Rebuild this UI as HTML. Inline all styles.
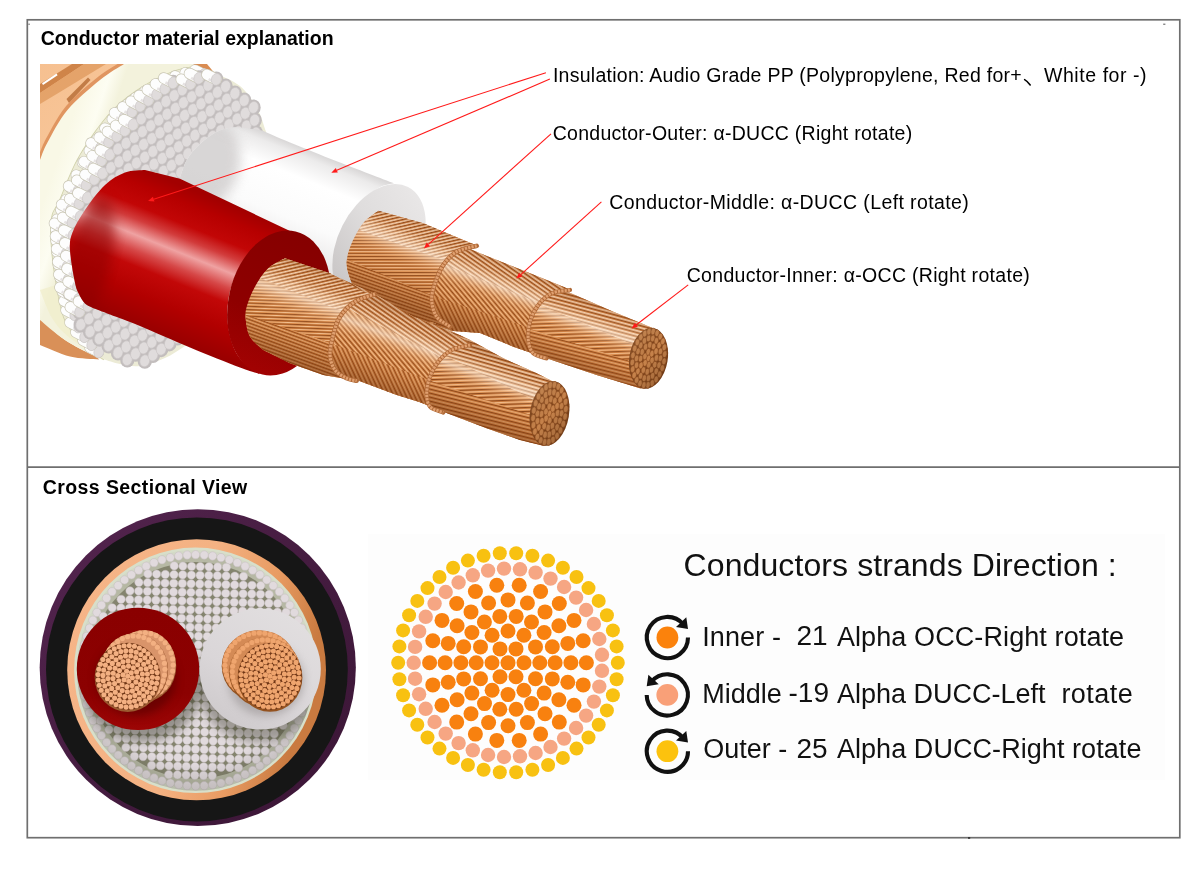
<!DOCTYPE html>
<html>
<head>
<meta charset="utf-8">
<title>Conductor material explanation</title>
<style>
html,body{margin:0;padding:0;background:#fff;}
body{width:1200px;height:874px;position:relative;overflow:hidden;font-family:"Liberation Sans",sans-serif;color:#000;}
.t{position:absolute;white-space:nowrap;line-height:1;filter:grayscale(1);}
svg{position:absolute;left:0;top:0;}
</style>
</head>
<body>

<!-- LEGEND BG -->
<div id="legbg" style="position:absolute;left:368px;top:534px;width:797px;height:246px;background:#fdfdfd;"></div>

<!-- MAIN SVG -->
<svg id="art" width="1200" height="874" viewBox="0 0 1200 874">
<defs>
<linearGradient id="gPur" x1="0" y1="0" x2="1" y2="1"><stop offset="0" stop-color="#552550"/><stop offset=".5" stop-color="#451c40"/><stop offset="1" stop-color="#3a1535"/></linearGradient>
<linearGradient id="gCuR" x1="0" y1="0" x2="1" y2="0.25"><stop offset="0" stop-color="#f6b588"/><stop offset=".55" stop-color="#f4b283"/><stop offset=".8" stop-color="#e89b62"/><stop offset="1" stop-color="#c97a40"/></linearGradient>
<radialGradient id="gRodSh" cx="0.5" cy="0.42" r="0.62"><stop offset="0" stop-color="#000" stop-opacity="0"/><stop offset=".75" stop-color="#000" stop-opacity="0"/><stop offset="1" stop-color="#30301c" stop-opacity=".22"/></radialGradient>
<linearGradient id="gWh" x1="0.8" y1="0" x2="0.2" y2="1"><stop offset="0" stop-color="#e2dfe0"/><stop offset=".6" stop-color="#dad6d8"/><stop offset="1" stop-color="#cdc9cb"/></linearGradient>
<linearGradient id="gRd" x1="0.5" y1="0" x2="0.5" y2="1"><stop offset="0" stop-color="#8a0000"/><stop offset=".7" stop-color="#8c0101"/><stop offset="1" stop-color="#9c0505"/></linearGradient>
<filter id="fBl3" x="-30%" y="-30%" width="160%" height="160%"><feGaussianBlur stdDeviation="4"/></filter>
<clipPath id="cRods"><ellipse cx="195.65" cy="670.35" rx="118.75" ry="120.35"/></clipPath><linearGradient id="tCuSh" gradientUnits="userSpaceOnUse" x1="40" y1="64" x2="120" y2="150"><stop offset="0" stop-color="#f6c090"/><stop offset=".5" stop-color="#f7c496"/><stop offset=".85" stop-color="#efae78"/><stop offset="1" stop-color="#dc9258"/></linearGradient>
<linearGradient id="tCream" gradientUnits="userSpaceOnUse" x1="40" y1="210" x2="75" y2="222"><stop offset="0" stop-color="#f9f8e6"/><stop offset=".6" stop-color="#fdfdf2"/><stop offset="1" stop-color="#f3f2dc"/></linearGradient>
<linearGradient id="tRed" gradientUnits="userSpaceOnUse" x1="217" y1="200" x2="162.3" y2="335.3"><stop offset="0" stop-color="#a30000"/><stop offset=".1" stop-color="#b60000"/><stop offset=".24" stop-color="#c20606"/><stop offset=".33" stop-color="#d23c3c"/><stop offset=".43" stop-color="#efa2a2"/><stop offset=".53" stop-color="#d64848"/><stop offset=".63" stop-color="#c20808"/><stop offset=".8" stop-color="#b20000"/><stop offset="1" stop-color="#990000"/></linearGradient>
<linearGradient id="tRedEnd" gradientUnits="userSpaceOnUse" x1="290" y1="232" x2="262" y2="374"><stop offset="0" stop-color="#860000"/><stop offset=".6" stop-color="#8e0000"/><stop offset="1" stop-color="#a20202"/></linearGradient>
<linearGradient id="tWh" gradientUnits="userSpaceOnUse" x1="330" y1="158.5" x2="286" y2="267"><stop offset="0" stop-color="#d9d7d7"/><stop offset=".07" stop-color="#ecebeb"/><stop offset=".25" stop-color="#ffffff"/><stop offset=".6" stop-color="#fbfbfb"/><stop offset=".85" stop-color="#ecebeb"/><stop offset="1" stop-color="#dedcdc"/></linearGradient>
<linearGradient id="tWhEnd" gradientUnits="userSpaceOnUse" x1="400" y1="185" x2="345" y2="285"><stop offset="0" stop-color="#e9e7e7"/><stop offset=".5" stop-color="#dfdddd"/><stop offset="1" stop-color="#cbc8c8"/></linearGradient>
<filter id="tBl" x="-20%" y="-20%" width="140%" height="140%"><feGaussianBlur stdDeviation="6"/></filter>
<filter id="tBl2" x="-20%" y="-20%" width="140%" height="140%"><feGaussianBlur stdDeviation="2.2"/></filter>
<clipPath id="tcAll"><rect x="40" y="64" width="640" height="392"/></clipPath><clipPath id="tcRod"><path d="M104,359.5 C100.8,357.1 91.5,351.6 85,345 C78.5,338.4 70,331.7 65,320 C60,308.3 57.3,289.2 55,275 C52.7,260.8 51.4,245 51,235 C50.6,225 51,220.8 52.5,215 C54,209.2 55.8,209.2 60,200 C64.2,190.8 70.4,172.9 77.5,160 C84.6,147.1 94.2,132.9 102.5,122.5 C110.8,112.1 117.9,105 127.5,97.5 C137.1,90 149.6,82.5 160,77.5 C170.4,72.5 181,68.3 190,67.5 C199,66.7 210,71.7 214,72.5 L214,72.5 C218.3,74.8 233,80.3 240,86 C247,91.7 252,99.8 256,106.5 C260,113.2 261.8,118.8 264,126 C266.2,133.2 269.3,137.7 269,150 C268.7,162.3 266.8,178.3 262,200 C257.2,221.7 248.7,258.3 240,280 C231.3,301.7 219.2,319 210,330 C200.8,341 192.5,341.3 185,346 C177.5,350.7 172.5,354.7 165,358 C157.5,361.3 147.5,365 140,366 C132.5,367 126,365.1 120,364 C114,362.9 106.7,360.2 104,359.5Z"/></clipPath>
<clipPath id="tcWh"><path d="M180,190 C180,187.9 178.3,183.3 180,177.5 C181.7,171.7 185,161.9 190,155 C195,148.1 203,140.6 210,136 C217,131.4 223.3,128.4 232,127.5 C240.7,126.6 257,130 262,130.5 L262,130.5 C266.7,132.5 277.3,137.2 290,142.4 C302.7,147.6 320.7,154.9 338,161.7 C355.3,168.5 384.7,179.7 394,183.3 L394,183.3 C391.6,184 385,184.5 379.7,187.3 C374.4,190.1 367.6,194.7 362,200 C356.4,205.3 350.2,212.4 346,219.4 C341.8,226.4 338.8,234.7 336.5,241.8 C334.2,248.9 332.6,255.6 332.5,262 C332.4,268.4 333.9,274.5 336,280 C338.1,285.5 343.5,292.5 345,295 L345,292 L354,312 L300,300 L180,232Z"/></clipPath>
<clipPath id="tcRed"><path d="M93,308 C91.7,307.2 87.3,305.8 85,303.5 C82.7,301.2 80.7,297.5 79,294 C77.3,290.5 76.5,289.8 75,282.5 C73.5,275.2 70.4,258.3 70,250 C69.6,241.7 70,239.2 72.5,232.5 C75,225.8 79.6,217.9 85,210 C90.4,202.1 98.3,191.2 105,185 C111.7,178.8 118.3,175 125,172.5 C131.7,170 141.7,170.4 145,170 L145,170 L180,178.8 L290,231 L290,231 C283.8,234.2 262.1,241.4 252.5,250 C242.9,258.6 236.7,270.8 232.5,282.5 C228.3,294.2 226.7,307.9 227.5,320 C228.3,332.1 232.1,346 237.5,355 C242.9,364 256.2,370.8 260,374 L260,374 C256.7,372.9 251.7,371.9 240,367.5 C228.3,363.1 206.7,354.4 190,347.5 C173.3,340.6 153.3,331.5 140,326 C126.7,320.5 117.8,317.5 110,314.5 C102.2,311.5 95.8,309.1 93,308Z"/></clipPath><linearGradient id="tgEF" x1="0" y1="0" x2="1" y2="1"><stop offset="0" stop-color="#ffd9b0" stop-opacity=".22"/><stop offset=".5" stop-color="#000" stop-opacity="0"/><stop offset="1" stop-color="#4a1f05" stop-opacity=".3"/></linearGradient>
<linearGradient id="tgC2i" gradientUnits="userSpaceOnUse" x1="612" y1="311" x2="590" y2="374"><stop offset="0" stop-color="#8a4516" stop-opacity="0.28"/><stop offset="0.1" stop-color="#a85c26" stop-opacity="0.08"/><stop offset="0.22" stop-color="#ffe2c4" stop-opacity="0.32"/><stop offset="0.33" stop-color="#fff0e0" stop-opacity="0.6"/><stop offset="0.45" stop-color="#ffd4ac" stop-opacity="0.22"/><stop offset="0.6" stop-color="#c06c30" stop-opacity="0"/><stop offset="0.8" stop-color="#8c4212" stop-opacity="0.26"/><stop offset="1" stop-color="#74340c" stop-opacity="0.5"/></linearGradient>
<pattern id="tp1" width="20" height="3.8" patternUnits="userSpaceOnUse" patternTransform="rotate(-2)"><rect width="20" height="3.8" fill="#da8a48"/><rect y="0" width="20" height="0.8" fill="#7f3c12"/><rect y="0.8" width="20" height="0.5" fill="#b4652b"/><rect y="2.1" width="20" height="0.8" fill="#f9cda2"/></pattern>
<clipPath id="tcS1"><path d="M530,276 L573.3,294.2 L613.3,311.7 L653.3,328.3 L653.3,328.3 C655.7,331.6 665.8,341.9 667.5,348.3 C669.2,354.7 667.3,360 663.3,366.7 C659.3,373.4 646.6,384.7 643.3,388.3 L640,388.3 L596.7,375 L546.7,358.3 L505,343Z"/></clipPath>
<pattern id="tp2" width="20" height="3.8" patternUnits="userSpaceOnUse" patternTransform="rotate(15)"><rect width="20" height="3.8" fill="#da8a48"/><rect y="0" width="20" height="0.8" fill="#7f3c12"/><rect y="0.8" width="20" height="0.5" fill="#b4652b"/><rect y="2.1" width="20" height="1.1" fill="#fff0df"/></pattern>
<pattern id="tp3" width="20" height="3.8" patternUnits="userSpaceOnUse" patternTransform="rotate(14)"><rect width="20" height="3.8" fill="#da8a48"/><rect y="0" width="20" height="0.8" fill="#7f3c12"/><rect y="0.8" width="20" height="0.5" fill="#b4652b"/><rect y="2.1" width="20" height="0.8" fill="#eebb8c"/></pattern>
<linearGradient id="tgC2m" gradientUnits="userSpaceOnUse" x1="528" y1="272" x2="500" y2="343"><stop offset="0" stop-color="#8a4516" stop-opacity="0.28"/><stop offset="0.1" stop-color="#a85c26" stop-opacity="0.08"/><stop offset="0.22" stop-color="#ffe2c4" stop-opacity="0.32"/><stop offset="0.33" stop-color="#fff0e0" stop-opacity="0.6"/><stop offset="0.45" stop-color="#ffd4ac" stop-opacity="0.22"/><stop offset="0.6" stop-color="#c06c30" stop-opacity="0"/><stop offset="0.8" stop-color="#8c4212" stop-opacity="0.26"/><stop offset="1" stop-color="#74340c" stop-opacity="0.5"/></linearGradient>
<pattern id="tp4" width="20" height="3.7" patternUnits="userSpaceOnUse" patternTransform="rotate(50)"><rect width="20" height="3.7" fill="#da8a48"/><rect y="0" width="20" height="0.8" fill="#7f3c12"/><rect y="0.8" width="20" height="0.5" fill="#b4652b"/><rect y="2.1" width="20" height="0.8" fill="#f9cda2"/></pattern>
<clipPath id="tcS4"><path d="M440,236 L480,253.3 L530,273.3 L570,289.5 L570,290 C567,290.6 557,290.8 551.7,293.3 C546.4,295.8 541.9,300.3 538.3,305 C534.7,309.7 531.7,315.9 530,321.7 C528.3,327.5 527.8,334.7 528.3,340 C528.8,345.3 530.2,350.2 533.3,353.3 C536.4,356.4 544.5,357.5 546.7,358.3 L546.7,358.3 L513.3,346.7 L480,333 L453,331 L410,312Z"/></clipPath>
<pattern id="tp5" width="20" height="3.7" patternUnits="userSpaceOnUse" patternTransform="rotate(35)"><rect width="20" height="3.7" fill="#da8a48"/><rect y="0" width="20" height="0.8" fill="#7f3c12"/><rect y="0.8" width="20" height="0.5" fill="#b4652b"/><rect y="2.1" width="20" height="1.1" fill="#fff0df"/></pattern>
<pattern id="tp6" width="20" height="3.7" patternUnits="userSpaceOnUse" patternTransform="rotate(64)"><rect width="20" height="3.7" fill="#da8a48"/><rect y="0" width="20" height="0.8" fill="#7f3c12"/><rect y="0.8" width="20" height="0.5" fill="#b4652b"/><rect y="2.1" width="20" height="0.7" fill="#eebb8c"/></pattern>
<linearGradient id="tgC2o" gradientUnits="userSpaceOnUse" x1="428" y1="224" x2="398" y2="304"><stop offset="0" stop-color="#8a4516" stop-opacity="0.28"/><stop offset="0.1" stop-color="#a85c26" stop-opacity="0.08"/><stop offset="0.22" stop-color="#ffe2c4" stop-opacity="0.32"/><stop offset="0.33" stop-color="#fff0e0" stop-opacity="0.6"/><stop offset="0.45" stop-color="#ffd4ac" stop-opacity="0.22"/><stop offset="0.6" stop-color="#c06c30" stop-opacity="0"/><stop offset="0.8" stop-color="#8c4212" stop-opacity="0.26"/><stop offset="1" stop-color="#74340c" stop-opacity="0.5"/></linearGradient>
<pattern id="tp7" width="20" height="3.2" patternUnits="userSpaceOnUse" patternTransform="rotate(0)"><rect width="20" height="3.2" fill="#da8a48"/><rect y="0" width="20" height="0.7" fill="#7f3c12"/><rect y="0.7" width="20" height="0.5" fill="#b4652b"/><rect y="1.8" width="20" height="0.7" fill="#f9cda2"/></pattern>
<clipPath id="tcS7"><path d="M356.7,292 C355.6,289.7 351.7,283.4 350,278.3 C348.3,273.2 346.4,267.5 346.7,261.7 C347,255.9 348.9,249.7 351.7,243.3 C354.5,236.9 358.9,228.7 363.3,223.3 C367.7,217.9 375.8,212.9 378.3,210.8 L378.3,210.8 L423.3,223.3 L463.3,240 L480,246.7 L476.7,245.8 C473.4,246.8 462.3,248.5 456.7,251.7 C451.1,254.9 446.9,259.7 443.3,265 C439.7,270.3 436.9,277.5 435,283.3 C433.1,289.1 431.4,294.4 431.7,300 C432,305.6 433.6,312.2 436.7,316.7 C439.8,321.1 447.8,325 450,326.7 L452,331.5 L436.7,326 L385,306 L356.7,292Z"/></clipPath>
<pattern id="tp8" width="20" height="3.2" patternUnits="userSpaceOnUse" patternTransform="rotate(-13)"><rect width="20" height="3.2" fill="#da8a48"/><rect y="0" width="20" height="0.7" fill="#7f3c12"/><rect y="0.7" width="20" height="0.5" fill="#b4652b"/><rect y="1.8" width="20" height="1" fill="#fff0df"/></pattern>
<pattern id="tp9" width="20" height="3.2" patternUnits="userSpaceOnUse" patternTransform="rotate(19)"><rect width="20" height="3.2" fill="#da8a48"/><rect y="0" width="20" height="0.7" fill="#7f3c12"/><rect y="0.7" width="20" height="0.5" fill="#b4652b"/><rect y="1.8" width="20" height="0.7" fill="#eebb8c"/></pattern>
<linearGradient id="tgC1i" gradientUnits="userSpaceOnUse" x1="512" y1="362" x2="488" y2="428"><stop offset="0" stop-color="#8a4516" stop-opacity="0.28"/><stop offset="0.1" stop-color="#a85c26" stop-opacity="0.08"/><stop offset="0.22" stop-color="#ffe2c4" stop-opacity="0.32"/><stop offset="0.33" stop-color="#fff0e0" stop-opacity="0.6"/><stop offset="0.45" stop-color="#ffd4ac" stop-opacity="0.22"/><stop offset="0.6" stop-color="#c06c30" stop-opacity="0"/><stop offset="0.8" stop-color="#8c4212" stop-opacity="0.26"/><stop offset="1" stop-color="#74340c" stop-opacity="0.5"/></linearGradient>
<pattern id="tp10" width="20" height="3.9" patternUnits="userSpaceOnUse" patternTransform="rotate(-2)"><rect width="20" height="3.9" fill="#da8a48"/><rect y="0" width="20" height="0.9" fill="#7f3c12"/><rect y="0.9" width="20" height="0.5" fill="#b4652b"/><rect y="2.2" width="20" height="0.9" fill="#f9cda2"/></pattern>
<clipPath id="tcS10"><path d="M430,321 L470,340 L503.3,358.3 L536.7,373.3 L553.3,381.7 L553.3,381.7 C555.8,384.8 566.3,393.6 568.3,400 C570.2,406.4 569.2,412.4 565,420 C560.8,427.6 546.9,441.5 543.3,445.8 L543.3,445.8 L520,440 L486.7,428.3 L443.3,411.7 L405,396Z"/></clipPath>
<pattern id="tp11" width="20" height="3.9" patternUnits="userSpaceOnUse" patternTransform="rotate(16)"><rect width="20" height="3.9" fill="#da8a48"/><rect y="0" width="20" height="0.9" fill="#7f3c12"/><rect y="0.9" width="20" height="0.5" fill="#b4652b"/><rect y="2.2" width="20" height="1.2" fill="#fff0df"/></pattern>
<pattern id="tp12" width="20" height="3.9" patternUnits="userSpaceOnUse" patternTransform="rotate(14)"><rect width="20" height="3.9" fill="#da8a48"/><rect y="0" width="20" height="0.9" fill="#7f3c12"/><rect y="0.9" width="20" height="0.5" fill="#b4652b"/><rect y="2.2" width="20" height="0.8" fill="#eebb8c"/></pattern>
<linearGradient id="tgC1m" gradientUnits="userSpaceOnUse" x1="425" y1="322" x2="396" y2="396"><stop offset="0" stop-color="#8a4516" stop-opacity="0.28"/><stop offset="0.1" stop-color="#a85c26" stop-opacity="0.08"/><stop offset="0.22" stop-color="#ffe2c4" stop-opacity="0.32"/><stop offset="0.33" stop-color="#fff0e0" stop-opacity="0.6"/><stop offset="0.45" stop-color="#ffd4ac" stop-opacity="0.22"/><stop offset="0.6" stop-color="#c06c30" stop-opacity="0"/><stop offset="0.8" stop-color="#8c4212" stop-opacity="0.26"/><stop offset="1" stop-color="#74340c" stop-opacity="0.5"/></linearGradient>
<pattern id="tp13" width="20" height="3.8" patternUnits="userSpaceOnUse" patternTransform="rotate(50)"><rect width="20" height="3.8" fill="#da8a48"/><rect y="0" width="20" height="0.8" fill="#7f3c12"/><rect y="0.8" width="20" height="0.5" fill="#b4652b"/><rect y="2.1" width="20" height="0.8" fill="#f9cda2"/></pattern>
<clipPath id="tcS13"><path d="M335,276 L375,294.2 L413.3,316.7 L446.7,330 L473.3,345 L470,345 C466.9,345.8 457,347.2 451.7,350 C446.4,352.8 441.9,357.2 438.3,361.7 C434.7,366.1 431.9,371.4 430,376.7 C428.1,382 426.7,388.3 426.7,393.3 C426.7,398.3 427.2,403.5 430,406.7 C432.8,409.9 441.1,411.5 443.3,412.5 L443.3,412.5 L423.3,403.3 L396.7,395 L356.7,380 L310,362Z"/></clipPath>
<pattern id="tp14" width="20" height="3.8" patternUnits="userSpaceOnUse" patternTransform="rotate(35)"><rect width="20" height="3.8" fill="#da8a48"/><rect y="0" width="20" height="0.8" fill="#7f3c12"/><rect y="0.8" width="20" height="0.5" fill="#b4652b"/><rect y="2.1" width="20" height="1.1" fill="#fff0df"/></pattern>
<pattern id="tp15" width="20" height="3.8" patternUnits="userSpaceOnUse" patternTransform="rotate(65)"><rect width="20" height="3.8" fill="#da8a48"/><rect y="0" width="20" height="0.8" fill="#7f3c12"/><rect y="0.8" width="20" height="0.5" fill="#b4652b"/><rect y="2.1" width="20" height="0.8" fill="#eebb8c"/></pattern>
<linearGradient id="tgC1o" gradientUnits="userSpaceOnUse" x1="327" y1="273" x2="296" y2="364"><stop offset="0" stop-color="#8a4516" stop-opacity="0.28"/><stop offset="0.1" stop-color="#a85c26" stop-opacity="0.08"/><stop offset="0.22" stop-color="#ffe2c4" stop-opacity="0.32"/><stop offset="0.33" stop-color="#fff0e0" stop-opacity="0.6"/><stop offset="0.45" stop-color="#ffd4ac" stop-opacity="0.22"/><stop offset="0.6" stop-color="#c06c30" stop-opacity="0"/><stop offset="0.8" stop-color="#8c4212" stop-opacity="0.26"/><stop offset="1" stop-color="#74340c" stop-opacity="0.5"/></linearGradient>
<pattern id="tp16" width="20" height="3.3" patternUnits="userSpaceOnUse" patternTransform="rotate(2)"><rect width="20" height="3.3" fill="#da8a48"/><rect y="0" width="20" height="0.7" fill="#7f3c12"/><rect y="0.7" width="20" height="0.5" fill="#b4652b"/><rect y="1.8" width="20" height="0.7" fill="#f9cda2"/></pattern>
<clipPath id="tcS16"><path d="M263.3,350 C261.1,347.8 252.9,341.7 250,336.7 C247.1,331.7 246.4,325 245.8,320 C245.2,315 245.2,312.2 246.7,306.7 C248.2,301.1 251.4,293.1 255,286.7 C258.6,280.3 263.3,273 268.3,268.3 C273.3,263.6 282.2,260 285,258.3 L285,258.3 L330,273.3 L363.3,291.7 L376.7,295 L375,294 C371.7,295.3 360.8,297.9 355,301.7 C349.2,305.5 343.6,311.1 340,316.7 C336.4,322.2 335,328.6 333.3,335 C331.6,341.4 329.7,349.2 330,355 C330.3,360.8 332.2,366.1 335,370 C337.8,373.9 343.1,376.5 346.7,378.3 C350.3,380.1 355,380.4 356.7,380.8 L356.7,380.8 L323.3,375 L290,363.3 L263.3,350Z"/></clipPath>
<pattern id="tp17" width="20" height="3.3" patternUnits="userSpaceOnUse" patternTransform="rotate(-13)"><rect width="20" height="3.3" fill="#da8a48"/><rect y="0" width="20" height="0.7" fill="#7f3c12"/><rect y="0.7" width="20" height="0.5" fill="#b4652b"/><rect y="1.8" width="20" height="1" fill="#fff0df"/></pattern>
<pattern id="tp18" width="20" height="3.3" patternUnits="userSpaceOnUse" patternTransform="rotate(20)"><rect width="20" height="3.3" fill="#da8a48"/><rect y="0" width="20" height="0.7" fill="#7f3c12"/><rect y="0.7" width="20" height="0.5" fill="#b4652b"/><rect y="1.8" width="20" height="0.7" fill="#eebb8c"/></pattern>
</defs>
<rect x="27.3" y="19.8" width="1152.5" height="817.9" fill="none" stroke="#6f6f6f" stroke-width="1.7"/>
<path d="M27.3,467.2H1179.8" stroke="#6f6f6f" stroke-width="1.7"/>
<g id="topimg" clip-path="url(#tcAll)">
<path d="M40,64 L126,64 L126,64 C121.7,66.7 109.8,72.3 100,80 C90.2,87.7 76.2,99.6 67.5,110 C58.8,120.4 52.1,133.8 47.5,142.5 C42.9,151.2 41.2,158.8 40,162Z" fill="url(#tCuSh)"/>
<path d="M40,84 L72,64 L84,64 L40,93Z" fill="#c8793c" opacity=".85"/>
<path d="M40,93 L84,64 L106,64 L60,92 L40,104Z" fill="#dd9558" opacity=".7"/>
<path d="M42,83.2 L56.5,73.6 L57.6,75.3 L43,85Z" fill="#fff"/>
<path d="M66.5,99 L88,77.5 L90.5,80 L69,103Z" fill="#b9703a" opacity=".85"/>
<path d="M128,62 C123.5,64.8 110.8,71.3 101,79 C91.2,86.7 77.7,97.8 69,108 C60.3,118.2 53.7,131.8 49,140.5 C44.3,149.2 42.3,156.8 41,160" fill="none" stroke="#d98a52" stroke-width="7" opacity=".8"/>
<path d="M192,64 L207,64 L214,72.5Z" fill="#d98c52"/>
<path d="M40,318 C44.2,321.7 55.4,333.4 65,340 C74.6,346.6 92.1,354.6 97.5,357.5 L99,359.5 L99,359.5 C94.2,359 79.8,358.9 70,356.5 C60.2,354.1 45,346.9 40,345Z" fill="#d99058"/>
<path d="M124,64 C120,66.7 109.4,72.3 100,80 C90.6,87.7 76.2,99.6 67.5,110 C58.8,120.4 52.1,134.2 47.5,142.5 C42.9,150.8 41.2,157.1 40,160 L40,160 L40,320 L40,320 C44.2,323.3 55.4,333.8 65,340 C74.6,346.2 91,354.2 97.5,357.5 C104,360.8 102.9,359.2 104,359.5 L104,359.5 C100.8,357.1 91.5,351.6 85,345 C78.5,338.4 70,331.7 65,320 C60,308.3 57.3,289.2 55,275 C52.7,260.8 51.4,245 51,235 C50.6,225 51,220.8 52.5,215 C54,209.2 55.8,209.2 60,200 C64.2,190.8 70.4,172.9 77.5,160 C84.6,147.1 94.2,132.9 102.5,122.5 C110.8,112.1 117.9,105 127.5,97.5 C137.1,90 149.6,82.5 160,77.5 C170.4,72.5 181,68.3 190,67.5 C199,66.7 210,71.7 214,72.5 L214,72.5 L192,64 L124,64Z" fill="url(#tCream)"/>
<path d="M40,290 C42,294.7 47,310 52,318 C57,326 61.3,331.1 70,338 C78.7,344.9 98.3,355.9 104,359.5 L104,359.5 C100.8,357.1 91.5,351.6 85,345 C78.5,338.4 69.8,330 65,320 C60.2,310 57.5,290.8 56,285 L40,290Z" fill="#f0eecb" opacity=".75"/>
<path d="M104,359.5 C100.8,357.1 91.5,351.6 85,345 C78.5,338.4 70,331.7 65,320 C60,308.3 57.3,289.2 55,275 C52.7,260.8 51.4,245 51,235 C50.6,225 51,220.8 52.5,215 C54,209.2 55.8,209.2 60,200 C64.2,190.8 70.4,172.9 77.5,160 C84.6,147.1 94.2,132.9 102.5,122.5 C110.8,112.1 117.9,105 127.5,97.5 C137.1,90 149.6,82.5 160,77.5 C170.4,72.5 181,68.3 190,67.5 C199,66.7 210,71.7 214,72.5" fill="none" stroke="#cfd0a8" stroke-width="1.6"/>
<path d="M104,359.5 C100.8,357.1 91.5,351.6 85,345 C78.5,338.4 70,331.7 65,320 C60,308.3 57.3,289.2 55,275 C52.7,260.8 51.4,245 51,235 C50.6,225 51,220.8 52.5,215 C54,209.2 55.8,209.2 60,200 C64.2,190.8 70.4,172.9 77.5,160 C84.6,147.1 94.2,132.9 102.5,122.5 C110.8,112.1 117.9,105 127.5,97.5 C137.1,90 149.6,82.5 160,77.5 C170.4,72.5 181,68.3 190,67.5 C199,66.7 210,71.7 214,72.5 L214,72.5 C218.3,74.8 233,80.3 240,86 C247,91.7 252,99.8 256,106.5 C260,113.2 261.8,118.8 264,126 C266.2,133.2 269.3,137.7 269,150 C268.7,162.3 266.8,178.3 262,200 C257.2,221.7 248.7,258.3 240,280 C231.3,301.7 219.2,319 210,330 C200.8,341 192.5,341.3 185,346 C177.5,350.7 172.5,354.7 165,358 C157.5,361.3 147.5,365 140,366 C132.5,367 126,365.1 120,364 C114,362.9 106.7,360.2 104,359.5Z" fill="#ecebd6"/>
<g><path d="M89.9,347.5 L98.8,352" stroke="#c9c6b4" stroke-width="11.2" stroke-linecap="round" fill="none"/><path d="M89.9,347.5 L98.8,352" stroke="#fdfdfd" stroke-width="10" stroke-linecap="round" fill="none"/><ellipse cx="98.8" cy="352" rx="4.9" ry="6" transform="rotate(15 98.8 352)" fill="#e0dcdc" stroke="#cac5c5" stroke-width=".6"/><path d="M82.9,340.2 L91.8,344.7" stroke="#c9c6b4" stroke-width="11.2" stroke-linecap="round" fill="none"/><path d="M82.9,340.2 L91.8,344.7" stroke="#fdfdfd" stroke-width="10" stroke-linecap="round" fill="none"/><ellipse cx="91.8" cy="344.7" rx="4.9" ry="6" transform="rotate(15 91.8 344.7)" fill="#e0dcdc" stroke="#cac5c5" stroke-width=".6"/><path d="M75.8,332.2 L84.7,336.7" stroke="#c9c6b4" stroke-width="11.2" stroke-linecap="round" fill="none"/><path d="M75.8,332.2 L84.7,336.7" stroke="#fdfdfd" stroke-width="10" stroke-linecap="round" fill="none"/><ellipse cx="84.7" cy="336.7" rx="4.9" ry="6" transform="rotate(15 84.7 336.7)" fill="#e0dcdc" stroke="#cac5c5" stroke-width=".6"/><path d="M69.9,322.5 L78.8,327" stroke="#c9c6b4" stroke-width="11.2" stroke-linecap="round" fill="none"/><path d="M69.9,322.5 L78.8,327" stroke="#fdfdfd" stroke-width="10" stroke-linecap="round" fill="none"/><ellipse cx="78.8" cy="327" rx="4.9" ry="6" transform="rotate(15 78.8 327)" fill="#e0dcdc" stroke="#cac5c5" stroke-width=".6"/><path d="M66,310.3 L74.9,314.8" stroke="#c9c6b4" stroke-width="11.2" stroke-linecap="round" fill="none"/><path d="M66,310.3 L74.9,314.8" stroke="#fdfdfd" stroke-width="10" stroke-linecap="round" fill="none"/><ellipse cx="74.9" cy="314.8" rx="4.9" ry="6" transform="rotate(15 74.9 314.8)" fill="#e0dcdc" stroke="#cac5c5" stroke-width=".6"/><path d="M63.9,300.9 L72.8,305.4" stroke="#c9c6b4" stroke-width="11.2" stroke-linecap="round" fill="none"/><path d="M63.9,300.9 L72.8,305.4" stroke="#fdfdfd" stroke-width="10" stroke-linecap="round" fill="none"/><ellipse cx="72.8" cy="305.4" rx="4.9" ry="6" transform="rotate(15 72.8 305.4)" fill="#e0dcdc" stroke="#cac5c5" stroke-width=".6"/><path d="M62.1,291.2 L71,295.7" stroke="#c9c6b4" stroke-width="11.2" stroke-linecap="round" fill="none"/><path d="M62.1,291.2 L71,295.7" stroke="#fdfdfd" stroke-width="10" stroke-linecap="round" fill="none"/><ellipse cx="71" cy="295.7" rx="4.9" ry="6" transform="rotate(15 71 295.7)" fill="#e0dcdc" stroke="#cac5c5" stroke-width=".6"/><path d="M59.9,277.5 L68.8,282" stroke="#c9c6b4" stroke-width="11.2" stroke-linecap="round" fill="none"/><path d="M59.9,277.5 L68.8,282" stroke="#fdfdfd" stroke-width="10" stroke-linecap="round" fill="none"/><ellipse cx="68.8" cy="282" rx="4.9" ry="6" transform="rotate(15 68.8 282)" fill="#e0dcdc" stroke="#cac5c5" stroke-width=".6"/><path d="M58.1,264.5 L67,269" stroke="#c9c6b4" stroke-width="11.2" stroke-linecap="round" fill="none"/><path d="M58.1,264.5 L67,269" stroke="#fdfdfd" stroke-width="10" stroke-linecap="round" fill="none"/><ellipse cx="67" cy="269" rx="4.9" ry="6" transform="rotate(15 67 269)" fill="#e0dcdc" stroke="#cac5c5" stroke-width=".6"/><path d="M56.8,251.8 L65.7,256.3" stroke="#c9c6b4" stroke-width="11.2" stroke-linecap="round" fill="none"/><path d="M56.8,251.8 L65.7,256.3" stroke="#fdfdfd" stroke-width="10" stroke-linecap="round" fill="none"/><ellipse cx="65.7" cy="256.3" rx="4.9" ry="6" transform="rotate(15 65.7 256.3)" fill="#e0dcdc" stroke="#cac5c5" stroke-width=".6"/><path d="M56,240.6 L64.9,245.1" stroke="#c9c6b4" stroke-width="11.2" stroke-linecap="round" fill="none"/><path d="M56,240.6 L64.9,245.1" stroke="#fdfdfd" stroke-width="10" stroke-linecap="round" fill="none"/><ellipse cx="64.9" cy="245.1" rx="4.9" ry="6" transform="rotate(15 64.9 245.1)" fill="#e0dcdc" stroke="#cac5c5" stroke-width=".6"/><path d="M55.8,229.8 L64.7,234.3" stroke="#c9c6b4" stroke-width="11.2" stroke-linecap="round" fill="none"/><path d="M55.8,229.8 L64.7,234.3" stroke="#fdfdfd" stroke-width="10" stroke-linecap="round" fill="none"/><ellipse cx="64.7" cy="234.3" rx="4.9" ry="6" transform="rotate(15 64.7 234.3)" fill="#e0dcdc" stroke="#cac5c5" stroke-width=".6"/><path d="M57,219.2 L65.9,223.7" stroke="#c9c6b4" stroke-width="11.2" stroke-linecap="round" fill="none"/><path d="M57,219.2 L65.9,223.7" stroke="#fdfdfd" stroke-width="10" stroke-linecap="round" fill="none"/><ellipse cx="65.9" cy="223.7" rx="4.9" ry="6" transform="rotate(15 65.9 223.7)" fill="#e0dcdc" stroke="#cac5c5" stroke-width=".6"/><path d="M60.9,210 L69.8,214.5" stroke="#c9c6b4" stroke-width="11.2" stroke-linecap="round" fill="none"/><path d="M60.9,210 L69.8,214.5" stroke="#fdfdfd" stroke-width="10" stroke-linecap="round" fill="none"/><ellipse cx="69.8" cy="214.5" rx="4.9" ry="6" transform="rotate(15 69.8 214.5)" fill="#e0dcdc" stroke="#cac5c5" stroke-width=".6"/><path d="M66.2,199.5 L75.1,204" stroke="#c9c6b4" stroke-width="11.2" stroke-linecap="round" fill="none"/><path d="M66.2,199.5 L75.1,204" stroke="#fdfdfd" stroke-width="10" stroke-linecap="round" fill="none"/><ellipse cx="75.1" cy="204" rx="4.9" ry="6" transform="rotate(15 75.1 204)" fill="#e0dcdc" stroke="#cac5c5" stroke-width=".6"/><path d="M70.8,188.2 L79.7,192.7" stroke="#c9c6b4" stroke-width="11.2" stroke-linecap="round" fill="none"/><path d="M70.8,188.2 L79.7,192.7" stroke="#fdfdfd" stroke-width="10" stroke-linecap="round" fill="none"/><ellipse cx="79.7" cy="192.7" rx="4.9" ry="6" transform="rotate(15 79.7 192.7)" fill="#e0dcdc" stroke="#cac5c5" stroke-width=".6"/><path d="M76.3,175.1 L85.2,179.6" stroke="#c9c6b4" stroke-width="11.2" stroke-linecap="round" fill="none"/><path d="M76.3,175.1 L85.2,179.6" stroke="#fdfdfd" stroke-width="10" stroke-linecap="round" fill="none"/><ellipse cx="85.2" cy="179.6" rx="4.9" ry="6" transform="rotate(15 85.2 179.6)" fill="#e0dcdc" stroke="#cac5c5" stroke-width=".6"/><path d="M82.4,162.5 L91.3,167" stroke="#c9c6b4" stroke-width="11.2" stroke-linecap="round" fill="none"/><path d="M82.4,162.5 L91.3,167" stroke="#fdfdfd" stroke-width="10" stroke-linecap="round" fill="none"/><ellipse cx="91.3" cy="167" rx="4.9" ry="6" transform="rotate(15 91.3 167)" fill="#e0dcdc" stroke="#cac5c5" stroke-width=".6"/><path d="M89.3,150.6 L98.2,155.1" stroke="#c9c6b4" stroke-width="11.2" stroke-linecap="round" fill="none"/><path d="M89.3,150.6 L98.2,155.1" stroke="#fdfdfd" stroke-width="10" stroke-linecap="round" fill="none"/><ellipse cx="98.2" cy="155.1" rx="4.9" ry="6" transform="rotate(15 98.2 155.1)" fill="#e0dcdc" stroke="#cac5c5" stroke-width=".6"/><path d="M97,139 L105.9,143.5" stroke="#c9c6b4" stroke-width="11.2" stroke-linecap="round" fill="none"/><path d="M97,139 L105.9,143.5" stroke="#fdfdfd" stroke-width="10" stroke-linecap="round" fill="none"/><ellipse cx="105.9" cy="143.5" rx="4.9" ry="6" transform="rotate(15 105.9 143.5)" fill="#e0dcdc" stroke="#cac5c5" stroke-width=".6"/><path d="M104.9,128.2 L113.8,132.7" stroke="#c9c6b4" stroke-width="11.2" stroke-linecap="round" fill="none"/><path d="M104.9,128.2 L113.8,132.7" stroke="#fdfdfd" stroke-width="10" stroke-linecap="round" fill="none"/><ellipse cx="113.8" cy="132.7" rx="4.9" ry="6" transform="rotate(15 113.8 132.7)" fill="#e0dcdc" stroke="#cac5c5" stroke-width=".6"/><path d="M112.3,119.1 L121.2,123.6" stroke="#c9c6b4" stroke-width="11.2" stroke-linecap="round" fill="none"/><path d="M112.3,119.1 L121.2,123.6" stroke="#fdfdfd" stroke-width="10" stroke-linecap="round" fill="none"/><ellipse cx="121.2" cy="123.6" rx="4.9" ry="6" transform="rotate(15 121.2 123.6)" fill="#e0dcdc" stroke="#cac5c5" stroke-width=".6"/><path d="M119.4,111.4 L128.3,115.9" stroke="#c9c6b4" stroke-width="11.2" stroke-linecap="round" fill="none"/><path d="M119.4,111.4 L128.3,115.9" stroke="#fdfdfd" stroke-width="10" stroke-linecap="round" fill="none"/><ellipse cx="128.3" cy="115.9" rx="4.9" ry="6" transform="rotate(15 128.3 115.9)" fill="#e0dcdc" stroke="#cac5c5" stroke-width=".6"/><path d="M126.9,104.5 L135.8,109" stroke="#c9c6b4" stroke-width="11.2" stroke-linecap="round" fill="none"/><path d="M126.9,104.5 L135.8,109" stroke="#fdfdfd" stroke-width="10" stroke-linecap="round" fill="none"/><ellipse cx="135.8" cy="109" rx="4.9" ry="6" transform="rotate(15 135.8 109)" fill="#e0dcdc" stroke="#cac5c5" stroke-width=".6"/><path d="M135.4,97.7 L144.3,102.2" stroke="#c9c6b4" stroke-width="11.2" stroke-linecap="round" fill="none"/><path d="M135.4,97.7 L144.3,102.2" stroke="#fdfdfd" stroke-width="10" stroke-linecap="round" fill="none"/><ellipse cx="144.3" cy="102.2" rx="4.9" ry="6" transform="rotate(15 144.3 102.2)" fill="#e0dcdc" stroke="#cac5c5" stroke-width=".6"/><path d="M145,91.1 L153.9,95.6" stroke="#c9c6b4" stroke-width="11.2" stroke-linecap="round" fill="none"/><path d="M145,91.1 L153.9,95.6" stroke="#fdfdfd" stroke-width="10" stroke-linecap="round" fill="none"/><ellipse cx="153.9" cy="95.6" rx="4.9" ry="6" transform="rotate(15 153.9 95.6)" fill="#e0dcdc" stroke="#cac5c5" stroke-width=".6"/><path d="M155.1,85.1 L164,89.6" stroke="#c9c6b4" stroke-width="11.2" stroke-linecap="round" fill="none"/><path d="M155.1,85.1 L164,89.6" stroke="#fdfdfd" stroke-width="10" stroke-linecap="round" fill="none"/><ellipse cx="164" cy="89.6" rx="4.9" ry="6" transform="rotate(15 164 89.6)" fill="#e0dcdc" stroke="#cac5c5" stroke-width=".6"/><path d="M164.9,80 L173.8,84.5" stroke="#c9c6b4" stroke-width="11.2" stroke-linecap="round" fill="none"/><path d="M164.9,80 L173.8,84.5" stroke="#fdfdfd" stroke-width="10" stroke-linecap="round" fill="none"/><ellipse cx="173.8" cy="84.5" rx="4.9" ry="6" transform="rotate(15 173.8 84.5)" fill="#e0dcdc" stroke="#cac5c5" stroke-width=".6"/><path d="M175,75.9 L183.9,80.4" stroke="#c9c6b4" stroke-width="11.2" stroke-linecap="round" fill="none"/><path d="M175,75.9 L183.9,80.4" stroke="#fdfdfd" stroke-width="10" stroke-linecap="round" fill="none"/><ellipse cx="183.9" cy="80.4" rx="4.9" ry="6" transform="rotate(15 183.9 80.4)" fill="#e0dcdc" stroke="#cac5c5" stroke-width=".6"/><path d="M185.2,72.8 L194.1,77.3" stroke="#c9c6b4" stroke-width="11.2" stroke-linecap="round" fill="none"/><path d="M185.2,72.8 L194.1,77.3" stroke="#fdfdfd" stroke-width="10" stroke-linecap="round" fill="none"/><ellipse cx="194.1" cy="77.3" rx="4.9" ry="6" transform="rotate(15 194.1 77.3)" fill="#e0dcdc" stroke="#cac5c5" stroke-width=".6"/><path d="M194.9,70 L203.8,74.5" stroke="#c9c6b4" stroke-width="11.2" stroke-linecap="round" fill="none"/><path d="M194.9,70 L203.8,74.5" stroke="#fdfdfd" stroke-width="10" stroke-linecap="round" fill="none"/><ellipse cx="203.8" cy="74.5" rx="4.9" ry="6" transform="rotate(15 203.8 74.5)" fill="#e0dcdc" stroke="#cac5c5" stroke-width=".6"/><ellipse cx="78" cy="190.8" rx="7.2" ry="8" fill="#c2bdbd"/><ellipse cx="100.4" cy="147.8" rx="7.2" ry="8" fill="#c2bdbd"/><ellipse cx="70.9" cy="209.4" rx="7.2" ry="8" fill="#c2bdbd"/><ellipse cx="93.3" cy="166.4" rx="7.2" ry="8" fill="#c2bdbd"/><ellipse cx="63.8" cy="228" rx="7.2" ry="8" fill="#c2bdbd"/><ellipse cx="86.2" cy="185" rx="7.2" ry="8" fill="#c2bdbd"/><ellipse cx="108.6" cy="142" rx="7.2" ry="8" fill="#c2bdbd"/><ellipse cx="79.1" cy="203.6" rx="7.2" ry="8" fill="#c2bdbd"/><ellipse cx="101.5" cy="160.6" rx="7.2" ry="8" fill="#c2bdbd"/><ellipse cx="123.9" cy="117.6" rx="7.2" ry="8" fill="#c2bdbd"/><ellipse cx="72" cy="222.2" rx="7.2" ry="8" fill="#c2bdbd"/><ellipse cx="94.4" cy="179.2" rx="7.2" ry="8" fill="#c2bdbd"/><ellipse cx="116.8" cy="136.2" rx="7.2" ry="8" fill="#c2bdbd"/><ellipse cx="64.9" cy="240.8" rx="7.2" ry="8" fill="#c2bdbd"/><ellipse cx="87.3" cy="197.8" rx="7.2" ry="8" fill="#c2bdbd"/><ellipse cx="109.7" cy="154.8" rx="7.2" ry="8" fill="#c2bdbd"/><ellipse cx="132.1" cy="111.8" rx="7.2" ry="8" fill="#c2bdbd"/><ellipse cx="80.2" cy="216.4" rx="7.2" ry="8" fill="#c2bdbd"/><ellipse cx="102.6" cy="173.4" rx="7.2" ry="8" fill="#c2bdbd"/><ellipse cx="125" cy="130.4" rx="7.2" ry="8" fill="#c2bdbd"/><ellipse cx="73.1" cy="235" rx="7.2" ry="8" fill="#c2bdbd"/><ellipse cx="95.5" cy="192" rx="7.2" ry="8" fill="#c2bdbd"/><ellipse cx="117.9" cy="149" rx="7.2" ry="8" fill="#c2bdbd"/><ellipse cx="140.3" cy="106" rx="7.2" ry="8" fill="#c2bdbd"/><ellipse cx="66" cy="253.6" rx="7.2" ry="8" fill="#c2bdbd"/><ellipse cx="88.4" cy="210.6" rx="7.2" ry="8" fill="#c2bdbd"/><ellipse cx="110.8" cy="167.6" rx="7.2" ry="8" fill="#c2bdbd"/><ellipse cx="133.2" cy="124.6" rx="7.2" ry="8" fill="#c2bdbd"/><ellipse cx="81.3" cy="229.2" rx="7.2" ry="8" fill="#c2bdbd"/><ellipse cx="103.7" cy="186.2" rx="7.2" ry="8" fill="#c2bdbd"/><ellipse cx="126.1" cy="143.2" rx="7.2" ry="8" fill="#c2bdbd"/><ellipse cx="148.5" cy="100.2" rx="7.2" ry="8" fill="#c2bdbd"/><ellipse cx="74.2" cy="247.8" rx="7.2" ry="8" fill="#c2bdbd"/><ellipse cx="96.6" cy="204.8" rx="7.2" ry="8" fill="#c2bdbd"/><ellipse cx="119" cy="161.8" rx="7.2" ry="8" fill="#c2bdbd"/><ellipse cx="141.4" cy="118.8" rx="7.2" ry="8" fill="#c2bdbd"/><ellipse cx="67.1" cy="266.4" rx="7.2" ry="8" fill="#c2bdbd"/><ellipse cx="111.9" cy="180.4" rx="7.2" ry="8" fill="#c2bdbd"/><ellipse cx="134.3" cy="137.4" rx="7.2" ry="8" fill="#c2bdbd"/><ellipse cx="156.7" cy="94.4" rx="7.2" ry="8" fill="#c2bdbd"/><ellipse cx="127.2" cy="156" rx="7.2" ry="8" fill="#c2bdbd"/><ellipse cx="149.6" cy="113" rx="7.2" ry="8" fill="#c2bdbd"/><ellipse cx="75.3" cy="260.6" rx="7.2" ry="8" fill="#c2bdbd"/><ellipse cx="120.1" cy="174.6" rx="7.2" ry="8" fill="#c2bdbd"/><ellipse cx="142.5" cy="131.6" rx="7.2" ry="8" fill="#c2bdbd"/><ellipse cx="68.2" cy="279.2" rx="7.2" ry="8" fill="#c2bdbd"/><ellipse cx="164.9" cy="88.6" rx="7.2" ry="8" fill="#c2bdbd"/><ellipse cx="135.4" cy="150.2" rx="7.2" ry="8" fill="#c2bdbd"/><ellipse cx="157.8" cy="107.2" rx="7.2" ry="8" fill="#c2bdbd"/><ellipse cx="128.3" cy="168.8" rx="7.2" ry="8" fill="#c2bdbd"/><ellipse cx="150.7" cy="125.8" rx="7.2" ry="8" fill="#c2bdbd"/><ellipse cx="76.4" cy="273.4" rx="7.2" ry="8" fill="#c2bdbd"/><ellipse cx="173.1" cy="82.8" rx="7.2" ry="8" fill="#c2bdbd"/><ellipse cx="143.6" cy="144.4" rx="7.2" ry="8" fill="#c2bdbd"/><ellipse cx="69.3" cy="292" rx="7.2" ry="8" fill="#c2bdbd"/><ellipse cx="166" cy="101.4" rx="7.2" ry="8" fill="#c2bdbd"/><ellipse cx="136.5" cy="163" rx="7.2" ry="8" fill="#c2bdbd"/><ellipse cx="158.9" cy="120" rx="7.2" ry="8" fill="#c2bdbd"/><ellipse cx="151.8" cy="138.6" rx="7.2" ry="8" fill="#c2bdbd"/><ellipse cx="77.5" cy="286.2" rx="7.2" ry="8" fill="#c2bdbd"/><ellipse cx="174.2" cy="95.6" rx="7.2" ry="8" fill="#c2bdbd"/><ellipse cx="144.7" cy="157.2" rx="7.2" ry="8" fill="#c2bdbd"/><ellipse cx="167.1" cy="114.2" rx="7.2" ry="8" fill="#c2bdbd"/><ellipse cx="160" cy="132.8" rx="7.2" ry="8" fill="#c2bdbd"/><ellipse cx="182.4" cy="89.8" rx="7.2" ry="8" fill="#c2bdbd"/><ellipse cx="152.9" cy="151.4" rx="7.2" ry="8" fill="#c2bdbd"/><ellipse cx="78.6" cy="299" rx="7.2" ry="8" fill="#c2bdbd"/><ellipse cx="175.3" cy="108.4" rx="7.2" ry="8" fill="#c2bdbd"/><ellipse cx="145.8" cy="170" rx="7.2" ry="8" fill="#c2bdbd"/><ellipse cx="168.2" cy="127" rx="7.2" ry="8" fill="#c2bdbd"/><ellipse cx="190.6" cy="84" rx="7.2" ry="8" fill="#c2bdbd"/><ellipse cx="161.1" cy="145.6" rx="7.2" ry="8" fill="#c2bdbd"/><ellipse cx="86.8" cy="293.2" rx="7.2" ry="8" fill="#c2bdbd"/><ellipse cx="183.5" cy="102.6" rx="7.2" ry="8" fill="#c2bdbd"/><ellipse cx="154" cy="164.2" rx="7.2" ry="8" fill="#c2bdbd"/><ellipse cx="79.7" cy="311.8" rx="7.2" ry="8" fill="#c2bdbd"/><ellipse cx="176.4" cy="121.2" rx="7.2" ry="8" fill="#c2bdbd"/><ellipse cx="198.8" cy="78.2" rx="7.2" ry="8" fill="#c2bdbd"/><ellipse cx="169.3" cy="139.8" rx="7.2" ry="8" fill="#c2bdbd"/><ellipse cx="191.7" cy="96.8" rx="7.2" ry="8" fill="#c2bdbd"/><ellipse cx="162.2" cy="158.4" rx="7.2" ry="8" fill="#c2bdbd"/><ellipse cx="87.9" cy="306" rx="7.2" ry="8" fill="#c2bdbd"/><ellipse cx="184.6" cy="115.4" rx="7.2" ry="8" fill="#c2bdbd"/><ellipse cx="80.8" cy="324.6" rx="7.2" ry="8" fill="#c2bdbd"/><ellipse cx="177.5" cy="134" rx="7.2" ry="8" fill="#c2bdbd"/><ellipse cx="199.9" cy="91" rx="7.2" ry="8" fill="#c2bdbd"/><ellipse cx="170.4" cy="152.6" rx="7.2" ry="8" fill="#c2bdbd"/><ellipse cx="192.8" cy="109.6" rx="7.2" ry="8" fill="#c2bdbd"/><ellipse cx="163.3" cy="171.2" rx="7.2" ry="8" fill="#c2bdbd"/><ellipse cx="89" cy="318.8" rx="7.2" ry="8" fill="#c2bdbd"/><ellipse cx="185.7" cy="128.2" rx="7.2" ry="8" fill="#c2bdbd"/><ellipse cx="208.1" cy="85.2" rx="7.2" ry="8" fill="#c2bdbd"/><ellipse cx="178.6" cy="146.8" rx="7.2" ry="8" fill="#c2bdbd"/><ellipse cx="201" cy="103.8" rx="7.2" ry="8" fill="#c2bdbd"/><ellipse cx="171.5" cy="165.4" rx="7.2" ry="8" fill="#c2bdbd"/><ellipse cx="97.2" cy="313" rx="7.2" ry="8" fill="#c2bdbd"/><ellipse cx="193.9" cy="122.4" rx="7.2" ry="8" fill="#c2bdbd"/><ellipse cx="216.3" cy="79.4" rx="7.2" ry="8" fill="#c2bdbd"/><ellipse cx="90.1" cy="331.6" rx="7.2" ry="8" fill="#c2bdbd"/><ellipse cx="186.8" cy="141" rx="7.2" ry="8" fill="#c2bdbd"/><ellipse cx="209.2" cy="98" rx="7.2" ry="8" fill="#c2bdbd"/><ellipse cx="179.7" cy="159.6" rx="7.2" ry="8" fill="#c2bdbd"/><ellipse cx="105.4" cy="307.2" rx="7.2" ry="8" fill="#c2bdbd"/><ellipse cx="202.1" cy="116.6" rx="7.2" ry="8" fill="#c2bdbd"/><ellipse cx="172.6" cy="178.2" rx="7.2" ry="8" fill="#c2bdbd"/><ellipse cx="98.3" cy="325.8" rx="7.2" ry="8" fill="#c2bdbd"/><ellipse cx="195" cy="135.2" rx="7.2" ry="8" fill="#c2bdbd"/><ellipse cx="217.4" cy="92.2" rx="7.2" ry="8" fill="#c2bdbd"/><ellipse cx="187.9" cy="153.8" rx="7.2" ry="8" fill="#c2bdbd"/><ellipse cx="210.3" cy="110.8" rx="7.2" ry="8" fill="#c2bdbd"/><ellipse cx="180.8" cy="172.4" rx="7.2" ry="8" fill="#c2bdbd"/><ellipse cx="106.5" cy="320" rx="7.2" ry="8" fill="#c2bdbd"/><ellipse cx="203.2" cy="129.4" rx="7.2" ry="8" fill="#c2bdbd"/><ellipse cx="225.6" cy="86.4" rx="7.2" ry="8" fill="#c2bdbd"/><ellipse cx="99.4" cy="338.6" rx="7.2" ry="8" fill="#c2bdbd"/><ellipse cx="196.1" cy="148" rx="7.2" ry="8" fill="#c2bdbd"/><ellipse cx="218.5" cy="105" rx="7.2" ry="8" fill="#c2bdbd"/><ellipse cx="189" cy="166.6" rx="7.2" ry="8" fill="#c2bdbd"/><ellipse cx="114.7" cy="314.2" rx="7.2" ry="8" fill="#c2bdbd"/><ellipse cx="211.4" cy="123.6" rx="7.2" ry="8" fill="#c2bdbd"/><ellipse cx="107.6" cy="332.8" rx="7.2" ry="8" fill="#c2bdbd"/><ellipse cx="204.3" cy="142.2" rx="7.2" ry="8" fill="#c2bdbd"/><ellipse cx="226.7" cy="99.2" rx="7.2" ry="8" fill="#c2bdbd"/><ellipse cx="219.6" cy="117.8" rx="7.2" ry="8" fill="#c2bdbd"/><ellipse cx="115.8" cy="327" rx="7.2" ry="8" fill="#c2bdbd"/><ellipse cx="212.5" cy="136.4" rx="7.2" ry="8" fill="#c2bdbd"/><ellipse cx="234.9" cy="93.4" rx="7.2" ry="8" fill="#c2bdbd"/><ellipse cx="108.7" cy="345.6" rx="7.2" ry="8" fill="#c2bdbd"/><ellipse cx="227.8" cy="112" rx="7.2" ry="8" fill="#c2bdbd"/><ellipse cx="124" cy="321.2" rx="7.2" ry="8" fill="#c2bdbd"/><ellipse cx="220.7" cy="130.6" rx="7.2" ry="8" fill="#c2bdbd"/><ellipse cx="116.9" cy="339.8" rx="7.2" ry="8" fill="#c2bdbd"/><ellipse cx="236" cy="106.2" rx="7.2" ry="8" fill="#c2bdbd"/><ellipse cx="132.2" cy="315.4" rx="7.2" ry="8" fill="#c2bdbd"/><ellipse cx="228.9" cy="124.8" rx="7.2" ry="8" fill="#c2bdbd"/><ellipse cx="125.1" cy="334" rx="7.2" ry="8" fill="#c2bdbd"/><ellipse cx="244.2" cy="100.4" rx="7.2" ry="8" fill="#c2bdbd"/><ellipse cx="118" cy="352.6" rx="7.2" ry="8" fill="#c2bdbd"/><ellipse cx="237.1" cy="119" rx="7.2" ry="8" fill="#c2bdbd"/><ellipse cx="133.3" cy="328.2" rx="7.2" ry="8" fill="#c2bdbd"/><ellipse cx="126.2" cy="346.8" rx="7.2" ry="8" fill="#c2bdbd"/><ellipse cx="245.3" cy="113.2" rx="7.2" ry="8" fill="#c2bdbd"/><ellipse cx="141.5" cy="322.4" rx="7.2" ry="8" fill="#c2bdbd"/><ellipse cx="238.2" cy="131.8" rx="7.2" ry="8" fill="#c2bdbd"/><ellipse cx="134.4" cy="341" rx="7.2" ry="8" fill="#c2bdbd"/><ellipse cx="253.5" cy="107.4" rx="7.2" ry="8" fill="#c2bdbd"/><ellipse cx="127.3" cy="359.6" rx="7.2" ry="8" fill="#c2bdbd"/><ellipse cx="246.4" cy="126" rx="7.2" ry="8" fill="#c2bdbd"/><ellipse cx="142.6" cy="335.2" rx="7.2" ry="8" fill="#c2bdbd"/><ellipse cx="135.5" cy="353.8" rx="7.2" ry="8" fill="#c2bdbd"/><ellipse cx="254.6" cy="120.2" rx="7.2" ry="8" fill="#c2bdbd"/><ellipse cx="150.8" cy="329.4" rx="7.2" ry="8" fill="#c2bdbd"/><ellipse cx="143.7" cy="348" rx="7.2" ry="8" fill="#c2bdbd"/><ellipse cx="255.7" cy="133" rx="7.2" ry="8" fill="#c2bdbd"/><ellipse cx="151.9" cy="342.2" rx="7.2" ry="8" fill="#c2bdbd"/><ellipse cx="144.8" cy="360.8" rx="7.2" ry="8" fill="#c2bdbd"/><ellipse cx="160.1" cy="336.4" rx="7.2" ry="8" fill="#c2bdbd"/><ellipse cx="153" cy="355" rx="7.2" ry="8" fill="#c2bdbd"/><ellipse cx="168.3" cy="330.6" rx="7.2" ry="8" fill="#c2bdbd"/><ellipse cx="161.2" cy="349.2" rx="7.2" ry="8" fill="#c2bdbd"/><ellipse cx="169.4" cy="343.4" rx="7.2" ry="8" fill="#c2bdbd"/><ellipse cx="177.6" cy="337.6" rx="7.2" ry="8" fill="#c2bdbd"/><path d="M78,190.8 l-9.3,-4.7" stroke="#c9c6b4" stroke-width="11.6" stroke-linecap="round" fill="none"/><path d="M78,190.8 l-9.3,-4.7" stroke="#fdfdfd" stroke-width="10.2" stroke-linecap="round" fill="none"/><path d="M79.6,195.2 l-9.3,-4.7" stroke="#e6e2e2" stroke-width="2.6" stroke-linecap="butt" fill="none"/><ellipse cx="78" cy="190.8" rx="4.9" ry="6" transform="rotate(15 78 190.8)" fill="#e0dcdc" stroke="#cac5c5" stroke-width=".6"/><path d="M100.4,147.8 l-9.3,-4.7" stroke="#c9c6b4" stroke-width="11.6" stroke-linecap="round" fill="none"/><path d="M100.4,147.8 l-9.3,-4.7" stroke="#fdfdfd" stroke-width="10.2" stroke-linecap="round" fill="none"/><path d="M102,152.2 l-9.3,-4.7" stroke="#e6e2e2" stroke-width="2.6" stroke-linecap="butt" fill="none"/><ellipse cx="100.4" cy="147.8" rx="4.9" ry="6" transform="rotate(15 100.4 147.8)" fill="#e0dcdc" stroke="#cac5c5" stroke-width=".6"/><path d="M70.9,209.4 l-9.3,-4.7" stroke="#c9c6b4" stroke-width="11.6" stroke-linecap="round" fill="none"/><path d="M70.9,209.4 l-9.3,-4.7" stroke="#fdfdfd" stroke-width="10.2" stroke-linecap="round" fill="none"/><path d="M72.5,213.8 l-9.3,-4.7" stroke="#e6e2e2" stroke-width="2.6" stroke-linecap="butt" fill="none"/><ellipse cx="70.9" cy="209.4" rx="4.9" ry="6" transform="rotate(15 70.9 209.4)" fill="#e0dcdc" stroke="#cac5c5" stroke-width=".6"/><path d="M93.3,166.4 l-9.3,-4.7" stroke="#c9c6b4" stroke-width="11.6" stroke-linecap="round" fill="none"/><path d="M93.3,166.4 l-9.3,-4.7" stroke="#fdfdfd" stroke-width="10.2" stroke-linecap="round" fill="none"/><path d="M94.9,170.8 l-9.3,-4.7" stroke="#e6e2e2" stroke-width="2.6" stroke-linecap="butt" fill="none"/><ellipse cx="93.3" cy="166.4" rx="4.9" ry="6" transform="rotate(15 93.3 166.4)" fill="#e0dcdc" stroke="#cac5c5" stroke-width=".6"/><path d="M63.8,228 l-9.3,-4.7" stroke="#c9c6b4" stroke-width="11.6" stroke-linecap="round" fill="none"/><path d="M63.8,228 l-9.3,-4.7" stroke="#fdfdfd" stroke-width="10.2" stroke-linecap="round" fill="none"/><path d="M65.4,232.4 l-9.3,-4.7" stroke="#e6e2e2" stroke-width="2.6" stroke-linecap="butt" fill="none"/><ellipse cx="63.8" cy="228" rx="4.9" ry="6" transform="rotate(15 63.8 228)" fill="#e0dcdc" stroke="#cac5c5" stroke-width=".6"/><path d="M86.2,185 l-9.3,-4.7" stroke="#c9c6b4" stroke-width="11.6" stroke-linecap="round" fill="none"/><path d="M86.2,185 l-9.3,-4.7" stroke="#fdfdfd" stroke-width="10.2" stroke-linecap="round" fill="none"/><path d="M87.8,189.4 l-9.3,-4.7" stroke="#e6e2e2" stroke-width="2.6" stroke-linecap="butt" fill="none"/><ellipse cx="86.2" cy="185" rx="4.9" ry="6" transform="rotate(15 86.2 185)" fill="#e0dcdc" stroke="#cac5c5" stroke-width=".6"/><path d="M108.6,142 l-9.3,-4.7" stroke="#c9c6b4" stroke-width="11.6" stroke-linecap="round" fill="none"/><path d="M108.6,142 l-9.3,-4.7" stroke="#fdfdfd" stroke-width="10.2" stroke-linecap="round" fill="none"/><path d="M110.2,146.4 l-9.3,-4.7" stroke="#e6e2e2" stroke-width="2.6" stroke-linecap="butt" fill="none"/><ellipse cx="108.6" cy="142" rx="4.9" ry="6" transform="rotate(15 108.6 142)" fill="#e0dcdc" stroke="#cac5c5" stroke-width=".6"/><path d="M79.1,203.6 l-9.3,-4.7" stroke="#c9c6b4" stroke-width="11.6" stroke-linecap="round" fill="none"/><path d="M79.1,203.6 l-9.3,-4.7" stroke="#fdfdfd" stroke-width="10.2" stroke-linecap="round" fill="none"/><path d="M80.7,208 l-9.3,-4.7" stroke="#e6e2e2" stroke-width="2.6" stroke-linecap="butt" fill="none"/><ellipse cx="79.1" cy="203.6" rx="4.9" ry="6" transform="rotate(15 79.1 203.6)" fill="#e0dcdc" stroke="#cac5c5" stroke-width=".6"/><path d="M101.5,160.6 l-9.3,-4.7" stroke="#c9c6b4" stroke-width="11.6" stroke-linecap="round" fill="none"/><path d="M101.5,160.6 l-9.3,-4.7" stroke="#fdfdfd" stroke-width="10.2" stroke-linecap="round" fill="none"/><path d="M103.1,165 l-9.3,-4.7" stroke="#e6e2e2" stroke-width="2.6" stroke-linecap="butt" fill="none"/><ellipse cx="101.5" cy="160.6" rx="4.9" ry="6" transform="rotate(15 101.5 160.6)" fill="#e0dcdc" stroke="#cac5c5" stroke-width=".6"/><path d="M123.9,117.6 l-9.3,-4.7" stroke="#c9c6b4" stroke-width="11.6" stroke-linecap="round" fill="none"/><path d="M123.9,117.6 l-9.3,-4.7" stroke="#fdfdfd" stroke-width="10.2" stroke-linecap="round" fill="none"/><path d="M125.5,122 l-9.3,-4.7" stroke="#e6e2e2" stroke-width="2.6" stroke-linecap="butt" fill="none"/><ellipse cx="123.9" cy="117.6" rx="4.9" ry="6" transform="rotate(15 123.9 117.6)" fill="#e0dcdc" stroke="#cac5c5" stroke-width=".6"/><path d="M72,222.2 l-9.3,-4.7" stroke="#c9c6b4" stroke-width="11.6" stroke-linecap="round" fill="none"/><path d="M72,222.2 l-9.3,-4.7" stroke="#fdfdfd" stroke-width="10.2" stroke-linecap="round" fill="none"/><path d="M73.6,226.6 l-9.3,-4.7" stroke="#e6e2e2" stroke-width="2.6" stroke-linecap="butt" fill="none"/><ellipse cx="72" cy="222.2" rx="4.9" ry="6" transform="rotate(15 72 222.2)" fill="#e0dcdc" stroke="#cac5c5" stroke-width=".6"/><path d="M94.4,179.2 l-9.3,-4.7" stroke="#c9c6b4" stroke-width="11.6" stroke-linecap="round" fill="none"/><path d="M94.4,179.2 l-9.3,-4.7" stroke="#fdfdfd" stroke-width="10.2" stroke-linecap="round" fill="none"/><path d="M96,183.6 l-9.3,-4.7" stroke="#e6e2e2" stroke-width="2.6" stroke-linecap="butt" fill="none"/><ellipse cx="94.4" cy="179.2" rx="4.9" ry="6" transform="rotate(15 94.4 179.2)" fill="#e0dcdc" stroke="#cac5c5" stroke-width=".6"/><path d="M116.8,136.2 l-9.3,-4.7" stroke="#c9c6b4" stroke-width="11.6" stroke-linecap="round" fill="none"/><path d="M116.8,136.2 l-9.3,-4.7" stroke="#fdfdfd" stroke-width="10.2" stroke-linecap="round" fill="none"/><path d="M118.4,140.6 l-9.3,-4.7" stroke="#e6e2e2" stroke-width="2.6" stroke-linecap="butt" fill="none"/><ellipse cx="116.8" cy="136.2" rx="4.9" ry="6" transform="rotate(15 116.8 136.2)" fill="#e0dcdc" stroke="#cac5c5" stroke-width=".6"/><path d="M64.9,240.8 l-9.3,-4.7" stroke="#c9c6b4" stroke-width="11.6" stroke-linecap="round" fill="none"/><path d="M64.9,240.8 l-9.3,-4.7" stroke="#fdfdfd" stroke-width="10.2" stroke-linecap="round" fill="none"/><path d="M66.5,245.2 l-9.3,-4.7" stroke="#e6e2e2" stroke-width="2.6" stroke-linecap="butt" fill="none"/><ellipse cx="64.9" cy="240.8" rx="4.9" ry="6" transform="rotate(15 64.9 240.8)" fill="#e0dcdc" stroke="#cac5c5" stroke-width=".6"/><path d="M87.3,197.8 l-9.3,-4.7" stroke="#c9c6b4" stroke-width="11.6" stroke-linecap="round" fill="none"/><path d="M87.3,197.8 l-9.3,-4.7" stroke="#fdfdfd" stroke-width="10.2" stroke-linecap="round" fill="none"/><path d="M88.9,202.2 l-9.3,-4.7" stroke="#e6e2e2" stroke-width="2.6" stroke-linecap="butt" fill="none"/><ellipse cx="87.3" cy="197.8" rx="4.9" ry="6" transform="rotate(15 87.3 197.8)" fill="#e0dcdc" stroke="#cac5c5" stroke-width=".6"/><path d="M109.7,154.8 l-9.3,-4.7" stroke="#c9c6b4" stroke-width="11.6" stroke-linecap="round" fill="none"/><path d="M109.7,154.8 l-9.3,-4.7" stroke="#fdfdfd" stroke-width="10.2" stroke-linecap="round" fill="none"/><path d="M111.3,159.2 l-9.3,-4.7" stroke="#e6e2e2" stroke-width="2.6" stroke-linecap="butt" fill="none"/><ellipse cx="109.7" cy="154.8" rx="4.9" ry="6" transform="rotate(15 109.7 154.8)" fill="#e0dcdc" stroke="#cac5c5" stroke-width=".6"/><path d="M132.1,111.8 l-9.3,-4.7" stroke="#c9c6b4" stroke-width="11.6" stroke-linecap="round" fill="none"/><path d="M132.1,111.8 l-9.3,-4.7" stroke="#fdfdfd" stroke-width="10.2" stroke-linecap="round" fill="none"/><path d="M133.7,116.2 l-9.3,-4.7" stroke="#e6e2e2" stroke-width="2.6" stroke-linecap="butt" fill="none"/><ellipse cx="132.1" cy="111.8" rx="4.9" ry="6" transform="rotate(15 132.1 111.8)" fill="#e0dcdc" stroke="#cac5c5" stroke-width=".6"/><path d="M80.2,216.4 l-9.3,-4.7" stroke="#c9c6b4" stroke-width="11.6" stroke-linecap="round" fill="none"/><path d="M80.2,216.4 l-9.3,-4.7" stroke="#fdfdfd" stroke-width="10.2" stroke-linecap="round" fill="none"/><path d="M81.8,220.8 l-9.3,-4.7" stroke="#e6e2e2" stroke-width="2.6" stroke-linecap="butt" fill="none"/><ellipse cx="80.2" cy="216.4" rx="4.9" ry="6" transform="rotate(15 80.2 216.4)" fill="#e0dcdc" stroke="#cac5c5" stroke-width=".6"/><path d="M102.6,173.4 l-9.3,-4.7" stroke="#c9c6b4" stroke-width="11.6" stroke-linecap="round" fill="none"/><path d="M102.6,173.4 l-9.3,-4.7" stroke="#fdfdfd" stroke-width="10.2" stroke-linecap="round" fill="none"/><path d="M104.2,177.8 l-9.3,-4.7" stroke="#e6e2e2" stroke-width="2.6" stroke-linecap="butt" fill="none"/><ellipse cx="102.6" cy="173.4" rx="4.9" ry="6" transform="rotate(15 102.6 173.4)" fill="#e0dcdc" stroke="#cac5c5" stroke-width=".6"/><path d="M125,130.4 l-9.3,-4.7" stroke="#c9c6b4" stroke-width="11.6" stroke-linecap="round" fill="none"/><path d="M125,130.4 l-9.3,-4.7" stroke="#fdfdfd" stroke-width="10.2" stroke-linecap="round" fill="none"/><path d="M126.6,134.8 l-9.3,-4.7" stroke="#e6e2e2" stroke-width="2.6" stroke-linecap="butt" fill="none"/><ellipse cx="125" cy="130.4" rx="4.9" ry="6" transform="rotate(15 125 130.4)" fill="#e0dcdc" stroke="#cac5c5" stroke-width=".6"/><path d="M73.1,235 l-9.3,-4.7" stroke="#c9c6b4" stroke-width="11.6" stroke-linecap="round" fill="none"/><path d="M73.1,235 l-9.3,-4.7" stroke="#fdfdfd" stroke-width="10.2" stroke-linecap="round" fill="none"/><path d="M74.7,239.4 l-9.3,-4.7" stroke="#e6e2e2" stroke-width="2.6" stroke-linecap="butt" fill="none"/><ellipse cx="73.1" cy="235" rx="4.9" ry="6" transform="rotate(15 73.1 235)" fill="#e0dcdc" stroke="#cac5c5" stroke-width=".6"/><ellipse cx="95.5" cy="192" rx="4.9" ry="6" transform="rotate(15 95.5 192)" fill="#e0dcdc" stroke="#cac5c5" stroke-width=".6"/><ellipse cx="117.9" cy="149" rx="4.9" ry="6" transform="rotate(15 117.9 149)" fill="#e0dcdc" stroke="#cac5c5" stroke-width=".6"/><path d="M140.3,106 l-9.3,-4.7" stroke="#c9c6b4" stroke-width="11.6" stroke-linecap="round" fill="none"/><path d="M140.3,106 l-9.3,-4.7" stroke="#fdfdfd" stroke-width="10.2" stroke-linecap="round" fill="none"/><path d="M141.9,110.4 l-9.3,-4.7" stroke="#e6e2e2" stroke-width="2.6" stroke-linecap="butt" fill="none"/><ellipse cx="140.3" cy="106" rx="4.9" ry="6" transform="rotate(15 140.3 106)" fill="#e0dcdc" stroke="#cac5c5" stroke-width=".6"/><path d="M66,253.6 l-9.3,-4.7" stroke="#c9c6b4" stroke-width="11.6" stroke-linecap="round" fill="none"/><path d="M66,253.6 l-9.3,-4.7" stroke="#fdfdfd" stroke-width="10.2" stroke-linecap="round" fill="none"/><path d="M67.6,258 l-9.3,-4.7" stroke="#e6e2e2" stroke-width="2.6" stroke-linecap="butt" fill="none"/><ellipse cx="66" cy="253.6" rx="4.9" ry="6" transform="rotate(15 66 253.6)" fill="#e0dcdc" stroke="#cac5c5" stroke-width=".6"/><ellipse cx="88.4" cy="210.6" rx="4.9" ry="6" transform="rotate(15 88.4 210.6)" fill="#e0dcdc" stroke="#cac5c5" stroke-width=".6"/><ellipse cx="110.8" cy="167.6" rx="4.9" ry="6" transform="rotate(15 110.8 167.6)" fill="#e0dcdc" stroke="#cac5c5" stroke-width=".6"/><path d="M133.2,124.6 l-9.3,-4.7" stroke="#c9c6b4" stroke-width="11.6" stroke-linecap="round" fill="none"/><path d="M133.2,124.6 l-9.3,-4.7" stroke="#fdfdfd" stroke-width="10.2" stroke-linecap="round" fill="none"/><path d="M134.8,129 l-9.3,-4.7" stroke="#e6e2e2" stroke-width="2.6" stroke-linecap="butt" fill="none"/><ellipse cx="133.2" cy="124.6" rx="4.9" ry="6" transform="rotate(15 133.2 124.6)" fill="#e0dcdc" stroke="#cac5c5" stroke-width=".6"/><ellipse cx="81.3" cy="229.2" rx="4.9" ry="6" transform="rotate(15 81.3 229.2)" fill="#e0dcdc" stroke="#cac5c5" stroke-width=".6"/><ellipse cx="103.7" cy="186.2" rx="4.9" ry="6" transform="rotate(15 103.7 186.2)" fill="#e0dcdc" stroke="#cac5c5" stroke-width=".6"/><ellipse cx="126.1" cy="143.2" rx="4.9" ry="6" transform="rotate(15 126.1 143.2)" fill="#e0dcdc" stroke="#cac5c5" stroke-width=".6"/><path d="M148.5,100.2 l-9.3,-4.7" stroke="#c9c6b4" stroke-width="11.6" stroke-linecap="round" fill="none"/><path d="M148.5,100.2 l-9.3,-4.7" stroke="#fdfdfd" stroke-width="10.2" stroke-linecap="round" fill="none"/><path d="M150.1,104.6 l-9.3,-4.7" stroke="#e6e2e2" stroke-width="2.6" stroke-linecap="butt" fill="none"/><ellipse cx="148.5" cy="100.2" rx="4.9" ry="6" transform="rotate(15 148.5 100.2)" fill="#e0dcdc" stroke="#cac5c5" stroke-width=".6"/><path d="M74.2,247.8 l-9.3,-4.7" stroke="#c9c6b4" stroke-width="11.6" stroke-linecap="round" fill="none"/><path d="M74.2,247.8 l-9.3,-4.7" stroke="#fdfdfd" stroke-width="10.2" stroke-linecap="round" fill="none"/><path d="M75.8,252.2 l-9.3,-4.7" stroke="#e6e2e2" stroke-width="2.6" stroke-linecap="butt" fill="none"/><ellipse cx="74.2" cy="247.8" rx="4.9" ry="6" transform="rotate(15 74.2 247.8)" fill="#e0dcdc" stroke="#cac5c5" stroke-width=".6"/><ellipse cx="96.6" cy="204.8" rx="4.9" ry="6" transform="rotate(15 96.6 204.8)" fill="#e0dcdc" stroke="#cac5c5" stroke-width=".6"/><ellipse cx="119" cy="161.8" rx="4.9" ry="6" transform="rotate(15 119 161.8)" fill="#e0dcdc" stroke="#cac5c5" stroke-width=".6"/><ellipse cx="141.4" cy="118.8" rx="4.9" ry="6" transform="rotate(15 141.4 118.8)" fill="#e0dcdc" stroke="#cac5c5" stroke-width=".6"/><path d="M67.1,266.4 l-9.3,-4.7" stroke="#c9c6b4" stroke-width="11.6" stroke-linecap="round" fill="none"/><path d="M67.1,266.4 l-9.3,-4.7" stroke="#fdfdfd" stroke-width="10.2" stroke-linecap="round" fill="none"/><path d="M68.7,270.8 l-9.3,-4.7" stroke="#e6e2e2" stroke-width="2.6" stroke-linecap="butt" fill="none"/><ellipse cx="67.1" cy="266.4" rx="4.9" ry="6" transform="rotate(15 67.1 266.4)" fill="#e0dcdc" stroke="#cac5c5" stroke-width=".6"/><ellipse cx="111.9" cy="180.4" rx="4.9" ry="6" transform="rotate(15 111.9 180.4)" fill="#e0dcdc" stroke="#cac5c5" stroke-width=".6"/><ellipse cx="134.3" cy="137.4" rx="4.9" ry="6" transform="rotate(15 134.3 137.4)" fill="#e0dcdc" stroke="#cac5c5" stroke-width=".6"/><path d="M156.7,94.4 l-9.3,-4.7" stroke="#c9c6b4" stroke-width="11.6" stroke-linecap="round" fill="none"/><path d="M156.7,94.4 l-9.3,-4.7" stroke="#fdfdfd" stroke-width="10.2" stroke-linecap="round" fill="none"/><path d="M158.3,98.8 l-9.3,-4.7" stroke="#e6e2e2" stroke-width="2.6" stroke-linecap="butt" fill="none"/><ellipse cx="156.7" cy="94.4" rx="4.9" ry="6" transform="rotate(15 156.7 94.4)" fill="#e0dcdc" stroke="#cac5c5" stroke-width=".6"/><ellipse cx="127.2" cy="156" rx="4.9" ry="6" transform="rotate(15 127.2 156)" fill="#e0dcdc" stroke="#cac5c5" stroke-width=".6"/><ellipse cx="149.6" cy="113" rx="4.9" ry="6" transform="rotate(15 149.6 113)" fill="#e0dcdc" stroke="#cac5c5" stroke-width=".6"/><path d="M75.3,260.6 l-9.3,-4.7" stroke="#c9c6b4" stroke-width="11.6" stroke-linecap="round" fill="none"/><path d="M75.3,260.6 l-9.3,-4.7" stroke="#fdfdfd" stroke-width="10.2" stroke-linecap="round" fill="none"/><path d="M76.9,265 l-9.3,-4.7" stroke="#e6e2e2" stroke-width="2.6" stroke-linecap="butt" fill="none"/><ellipse cx="75.3" cy="260.6" rx="4.9" ry="6" transform="rotate(15 75.3 260.6)" fill="#e0dcdc" stroke="#cac5c5" stroke-width=".6"/><ellipse cx="120.1" cy="174.6" rx="4.9" ry="6" transform="rotate(15 120.1 174.6)" fill="#e0dcdc" stroke="#cac5c5" stroke-width=".6"/><ellipse cx="142.5" cy="131.6" rx="4.9" ry="6" transform="rotate(15 142.5 131.6)" fill="#e0dcdc" stroke="#cac5c5" stroke-width=".6"/><path d="M68.2,279.2 l-9.3,-4.7" stroke="#c9c6b4" stroke-width="11.6" stroke-linecap="round" fill="none"/><path d="M68.2,279.2 l-9.3,-4.7" stroke="#fdfdfd" stroke-width="10.2" stroke-linecap="round" fill="none"/><path d="M69.8,283.6 l-9.3,-4.7" stroke="#e6e2e2" stroke-width="2.6" stroke-linecap="butt" fill="none"/><ellipse cx="68.2" cy="279.2" rx="4.9" ry="6" transform="rotate(15 68.2 279.2)" fill="#e0dcdc" stroke="#cac5c5" stroke-width=".6"/><path d="M164.9,88.6 l-9.3,-4.7" stroke="#c9c6b4" stroke-width="11.6" stroke-linecap="round" fill="none"/><path d="M164.9,88.6 l-9.3,-4.7" stroke="#fdfdfd" stroke-width="10.2" stroke-linecap="round" fill="none"/><path d="M166.5,93 l-9.3,-4.7" stroke="#e6e2e2" stroke-width="2.6" stroke-linecap="butt" fill="none"/><ellipse cx="164.9" cy="88.6" rx="4.9" ry="6" transform="rotate(15 164.9 88.6)" fill="#e0dcdc" stroke="#cac5c5" stroke-width=".6"/><ellipse cx="135.4" cy="150.2" rx="4.9" ry="6" transform="rotate(15 135.4 150.2)" fill="#e0dcdc" stroke="#cac5c5" stroke-width=".6"/><ellipse cx="157.8" cy="107.2" rx="4.9" ry="6" transform="rotate(15 157.8 107.2)" fill="#e0dcdc" stroke="#cac5c5" stroke-width=".6"/><ellipse cx="128.3" cy="168.8" rx="4.9" ry="6" transform="rotate(15 128.3 168.8)" fill="#e0dcdc" stroke="#cac5c5" stroke-width=".6"/><ellipse cx="150.7" cy="125.8" rx="4.9" ry="6" transform="rotate(15 150.7 125.8)" fill="#e0dcdc" stroke="#cac5c5" stroke-width=".6"/><path d="M76.4,273.4 l-9.3,-4.7" stroke="#c9c6b4" stroke-width="11.6" stroke-linecap="round" fill="none"/><path d="M76.4,273.4 l-9.3,-4.7" stroke="#fdfdfd" stroke-width="10.2" stroke-linecap="round" fill="none"/><path d="M78,277.8 l-9.3,-4.7" stroke="#e6e2e2" stroke-width="2.6" stroke-linecap="butt" fill="none"/><ellipse cx="76.4" cy="273.4" rx="4.9" ry="6" transform="rotate(15 76.4 273.4)" fill="#e0dcdc" stroke="#cac5c5" stroke-width=".6"/><path d="M173.1,82.8 l-9.3,-4.7" stroke="#c9c6b4" stroke-width="11.6" stroke-linecap="round" fill="none"/><path d="M173.1,82.8 l-9.3,-4.7" stroke="#fdfdfd" stroke-width="10.2" stroke-linecap="round" fill="none"/><path d="M174.7,87.2 l-9.3,-4.7" stroke="#e6e2e2" stroke-width="2.6" stroke-linecap="butt" fill="none"/><ellipse cx="173.1" cy="82.8" rx="4.9" ry="6" transform="rotate(15 173.1 82.8)" fill="#e0dcdc" stroke="#cac5c5" stroke-width=".6"/><ellipse cx="143.6" cy="144.4" rx="4.9" ry="6" transform="rotate(15 143.6 144.4)" fill="#e0dcdc" stroke="#cac5c5" stroke-width=".6"/><path d="M69.3,292 l-9.3,-4.7" stroke="#c9c6b4" stroke-width="11.6" stroke-linecap="round" fill="none"/><path d="M69.3,292 l-9.3,-4.7" stroke="#fdfdfd" stroke-width="10.2" stroke-linecap="round" fill="none"/><path d="M70.9,296.4 l-9.3,-4.7" stroke="#e6e2e2" stroke-width="2.6" stroke-linecap="butt" fill="none"/><ellipse cx="69.3" cy="292" rx="4.9" ry="6" transform="rotate(15 69.3 292)" fill="#e0dcdc" stroke="#cac5c5" stroke-width=".6"/><ellipse cx="166" cy="101.4" rx="4.9" ry="6" transform="rotate(15 166 101.4)" fill="#e0dcdc" stroke="#cac5c5" stroke-width=".6"/><ellipse cx="136.5" cy="163" rx="4.9" ry="6" transform="rotate(15 136.5 163)" fill="#e0dcdc" stroke="#cac5c5" stroke-width=".6"/><ellipse cx="158.9" cy="120" rx="4.9" ry="6" transform="rotate(15 158.9 120)" fill="#e0dcdc" stroke="#cac5c5" stroke-width=".6"/><ellipse cx="151.8" cy="138.6" rx="4.9" ry="6" transform="rotate(15 151.8 138.6)" fill="#e0dcdc" stroke="#cac5c5" stroke-width=".6"/><path d="M77.5,286.2 l-9.3,-4.7" stroke="#c9c6b4" stroke-width="11.6" stroke-linecap="round" fill="none"/><path d="M77.5,286.2 l-9.3,-4.7" stroke="#fdfdfd" stroke-width="10.2" stroke-linecap="round" fill="none"/><path d="M79.1,290.6 l-9.3,-4.7" stroke="#e6e2e2" stroke-width="2.6" stroke-linecap="butt" fill="none"/><ellipse cx="77.5" cy="286.2" rx="4.9" ry="6" transform="rotate(15 77.5 286.2)" fill="#e0dcdc" stroke="#cac5c5" stroke-width=".6"/><ellipse cx="174.2" cy="95.6" rx="4.9" ry="6" transform="rotate(15 174.2 95.6)" fill="#e0dcdc" stroke="#cac5c5" stroke-width=".6"/><ellipse cx="144.7" cy="157.2" rx="4.9" ry="6" transform="rotate(15 144.7 157.2)" fill="#e0dcdc" stroke="#cac5c5" stroke-width=".6"/><ellipse cx="167.1" cy="114.2" rx="4.9" ry="6" transform="rotate(15 167.1 114.2)" fill="#e0dcdc" stroke="#cac5c5" stroke-width=".6"/><ellipse cx="160" cy="132.8" rx="4.9" ry="6" transform="rotate(15 160 132.8)" fill="#e0dcdc" stroke="#cac5c5" stroke-width=".6"/><ellipse cx="182.4" cy="89.8" rx="4.9" ry="6" transform="rotate(15 182.4 89.8)" fill="#e0dcdc" stroke="#cac5c5" stroke-width=".6"/><ellipse cx="152.9" cy="151.4" rx="4.9" ry="6" transform="rotate(15 152.9 151.4)" fill="#e0dcdc" stroke="#cac5c5" stroke-width=".6"/><path d="M78.6,299 l-9.3,-4.7" stroke="#c9c6b4" stroke-width="11.6" stroke-linecap="round" fill="none"/><path d="M78.6,299 l-9.3,-4.7" stroke="#fdfdfd" stroke-width="10.2" stroke-linecap="round" fill="none"/><path d="M80.2,303.4 l-9.3,-4.7" stroke="#e6e2e2" stroke-width="2.6" stroke-linecap="butt" fill="none"/><ellipse cx="78.6" cy="299" rx="4.9" ry="6" transform="rotate(15 78.6 299)" fill="#e0dcdc" stroke="#cac5c5" stroke-width=".6"/><ellipse cx="175.3" cy="108.4" rx="4.9" ry="6" transform="rotate(15 175.3 108.4)" fill="#e0dcdc" stroke="#cac5c5" stroke-width=".6"/><ellipse cx="145.8" cy="170" rx="4.9" ry="6" transform="rotate(15 145.8 170)" fill="#e0dcdc" stroke="#cac5c5" stroke-width=".6"/><ellipse cx="168.2" cy="127" rx="4.9" ry="6" transform="rotate(15 168.2 127)" fill="#e0dcdc" stroke="#cac5c5" stroke-width=".6"/><path d="M190.6,84 l-9.3,-4.7" stroke="#c9c6b4" stroke-width="11.6" stroke-linecap="round" fill="none"/><path d="M190.6,84 l-9.3,-4.7" stroke="#fdfdfd" stroke-width="10.2" stroke-linecap="round" fill="none"/><path d="M192.2,88.4 l-9.3,-4.7" stroke="#e6e2e2" stroke-width="2.6" stroke-linecap="butt" fill="none"/><ellipse cx="190.6" cy="84" rx="4.9" ry="6" transform="rotate(15 190.6 84)" fill="#e0dcdc" stroke="#cac5c5" stroke-width=".6"/><ellipse cx="161.1" cy="145.6" rx="4.9" ry="6" transform="rotate(15 161.1 145.6)" fill="#e0dcdc" stroke="#cac5c5" stroke-width=".6"/><ellipse cx="86.8" cy="293.2" rx="4.9" ry="6" transform="rotate(15 86.8 293.2)" fill="#e0dcdc" stroke="#cac5c5" stroke-width=".6"/><ellipse cx="183.5" cy="102.6" rx="4.9" ry="6" transform="rotate(15 183.5 102.6)" fill="#e0dcdc" stroke="#cac5c5" stroke-width=".6"/><ellipse cx="154" cy="164.2" rx="4.9" ry="6" transform="rotate(15 154 164.2)" fill="#e0dcdc" stroke="#cac5c5" stroke-width=".6"/><path d="M79.7,311.8 l-9.3,-4.7" stroke="#c9c6b4" stroke-width="11.6" stroke-linecap="round" fill="none"/><path d="M79.7,311.8 l-9.3,-4.7" stroke="#fdfdfd" stroke-width="10.2" stroke-linecap="round" fill="none"/><path d="M81.3,316.2 l-9.3,-4.7" stroke="#e6e2e2" stroke-width="2.6" stroke-linecap="butt" fill="none"/><ellipse cx="79.7" cy="311.8" rx="4.9" ry="6" transform="rotate(15 79.7 311.8)" fill="#e0dcdc" stroke="#cac5c5" stroke-width=".6"/><ellipse cx="176.4" cy="121.2" rx="4.9" ry="6" transform="rotate(15 176.4 121.2)" fill="#e0dcdc" stroke="#cac5c5" stroke-width=".6"/><path d="M198.8,78.2 l-9.3,-4.7" stroke="#c9c6b4" stroke-width="11.6" stroke-linecap="round" fill="none"/><path d="M198.8,78.2 l-9.3,-4.7" stroke="#fdfdfd" stroke-width="10.2" stroke-linecap="round" fill="none"/><path d="M200.4,82.6 l-9.3,-4.7" stroke="#e6e2e2" stroke-width="2.6" stroke-linecap="butt" fill="none"/><ellipse cx="198.8" cy="78.2" rx="4.9" ry="6" transform="rotate(15 198.8 78.2)" fill="#e0dcdc" stroke="#cac5c5" stroke-width=".6"/><ellipse cx="169.3" cy="139.8" rx="4.9" ry="6" transform="rotate(15 169.3 139.8)" fill="#e0dcdc" stroke="#cac5c5" stroke-width=".6"/><ellipse cx="191.7" cy="96.8" rx="4.9" ry="6" transform="rotate(15 191.7 96.8)" fill="#e0dcdc" stroke="#cac5c5" stroke-width=".6"/><ellipse cx="162.2" cy="158.4" rx="4.9" ry="6" transform="rotate(15 162.2 158.4)" fill="#e0dcdc" stroke="#cac5c5" stroke-width=".6"/><path d="M87.9,306 l-9.3,-4.7" stroke="#c9c6b4" stroke-width="11.6" stroke-linecap="round" fill="none"/><path d="M87.9,306 l-9.3,-4.7" stroke="#fdfdfd" stroke-width="10.2" stroke-linecap="round" fill="none"/><path d="M89.5,310.4 l-9.3,-4.7" stroke="#e6e2e2" stroke-width="2.6" stroke-linecap="butt" fill="none"/><ellipse cx="87.9" cy="306" rx="4.9" ry="6" transform="rotate(15 87.9 306)" fill="#e0dcdc" stroke="#cac5c5" stroke-width=".6"/><ellipse cx="184.6" cy="115.4" rx="4.9" ry="6" transform="rotate(15 184.6 115.4)" fill="#e0dcdc" stroke="#cac5c5" stroke-width=".6"/><ellipse cx="80.8" cy="324.6" rx="4.9" ry="6" transform="rotate(15 80.8 324.6)" fill="#e0dcdc" stroke="#cac5c5" stroke-width=".6"/><ellipse cx="177.5" cy="134" rx="4.9" ry="6" transform="rotate(15 177.5 134)" fill="#e0dcdc" stroke="#cac5c5" stroke-width=".6"/><ellipse cx="199.9" cy="91" rx="4.9" ry="6" transform="rotate(15 199.9 91)" fill="#e0dcdc" stroke="#cac5c5" stroke-width=".6"/><ellipse cx="170.4" cy="152.6" rx="4.9" ry="6" transform="rotate(15 170.4 152.6)" fill="#e0dcdc" stroke="#cac5c5" stroke-width=".6"/><ellipse cx="192.8" cy="109.6" rx="4.9" ry="6" transform="rotate(15 192.8 109.6)" fill="#e0dcdc" stroke="#cac5c5" stroke-width=".6"/><ellipse cx="163.3" cy="171.2" rx="4.9" ry="6" transform="rotate(15 163.3 171.2)" fill="#e0dcdc" stroke="#cac5c5" stroke-width=".6"/><ellipse cx="89" cy="318.8" rx="4.9" ry="6" transform="rotate(15 89 318.8)" fill="#e0dcdc" stroke="#cac5c5" stroke-width=".6"/><ellipse cx="185.7" cy="128.2" rx="4.9" ry="6" transform="rotate(15 185.7 128.2)" fill="#e0dcdc" stroke="#cac5c5" stroke-width=".6"/><ellipse cx="208.1" cy="85.2" rx="4.9" ry="6" transform="rotate(15 208.1 85.2)" fill="#e0dcdc" stroke="#cac5c5" stroke-width=".6"/><ellipse cx="178.6" cy="146.8" rx="4.9" ry="6" transform="rotate(15 178.6 146.8)" fill="#e0dcdc" stroke="#cac5c5" stroke-width=".6"/><ellipse cx="201" cy="103.8" rx="4.9" ry="6" transform="rotate(15 201 103.8)" fill="#e0dcdc" stroke="#cac5c5" stroke-width=".6"/><ellipse cx="171.5" cy="165.4" rx="4.9" ry="6" transform="rotate(15 171.5 165.4)" fill="#e0dcdc" stroke="#cac5c5" stroke-width=".6"/><ellipse cx="97.2" cy="313" rx="4.9" ry="6" transform="rotate(15 97.2 313)" fill="#e0dcdc" stroke="#cac5c5" stroke-width=".6"/><ellipse cx="193.9" cy="122.4" rx="4.9" ry="6" transform="rotate(15 193.9 122.4)" fill="#e0dcdc" stroke="#cac5c5" stroke-width=".6"/><path d="M216.3,79.4 l-9.3,-4.7" stroke="#c9c6b4" stroke-width="11.6" stroke-linecap="round" fill="none"/><path d="M216.3,79.4 l-9.3,-4.7" stroke="#fdfdfd" stroke-width="10.2" stroke-linecap="round" fill="none"/><path d="M217.9,83.8 l-9.3,-4.7" stroke="#e6e2e2" stroke-width="2.6" stroke-linecap="butt" fill="none"/><ellipse cx="216.3" cy="79.4" rx="4.9" ry="6" transform="rotate(15 216.3 79.4)" fill="#e0dcdc" stroke="#cac5c5" stroke-width=".6"/><ellipse cx="90.1" cy="331.6" rx="4.9" ry="6" transform="rotate(15 90.1 331.6)" fill="#e0dcdc" stroke="#cac5c5" stroke-width=".6"/><ellipse cx="186.8" cy="141" rx="4.9" ry="6" transform="rotate(15 186.8 141)" fill="#e0dcdc" stroke="#cac5c5" stroke-width=".6"/><ellipse cx="209.2" cy="98" rx="4.9" ry="6" transform="rotate(15 209.2 98)" fill="#e0dcdc" stroke="#cac5c5" stroke-width=".6"/><ellipse cx="179.7" cy="159.6" rx="4.9" ry="6" transform="rotate(15 179.7 159.6)" fill="#e0dcdc" stroke="#cac5c5" stroke-width=".6"/><ellipse cx="105.4" cy="307.2" rx="4.9" ry="6" transform="rotate(15 105.4 307.2)" fill="#e0dcdc" stroke="#cac5c5" stroke-width=".6"/><ellipse cx="202.1" cy="116.6" rx="4.9" ry="6" transform="rotate(15 202.1 116.6)" fill="#e0dcdc" stroke="#cac5c5" stroke-width=".6"/><ellipse cx="172.6" cy="178.2" rx="4.9" ry="6" transform="rotate(15 172.6 178.2)" fill="#e0dcdc" stroke="#cac5c5" stroke-width=".6"/><ellipse cx="98.3" cy="325.8" rx="4.9" ry="6" transform="rotate(15 98.3 325.8)" fill="#e0dcdc" stroke="#cac5c5" stroke-width=".6"/><ellipse cx="195" cy="135.2" rx="4.9" ry="6" transform="rotate(15 195 135.2)" fill="#e0dcdc" stroke="#cac5c5" stroke-width=".6"/><ellipse cx="217.4" cy="92.2" rx="4.9" ry="6" transform="rotate(15 217.4 92.2)" fill="#e0dcdc" stroke="#cac5c5" stroke-width=".6"/><ellipse cx="187.9" cy="153.8" rx="4.9" ry="6" transform="rotate(15 187.9 153.8)" fill="#e0dcdc" stroke="#cac5c5" stroke-width=".6"/><ellipse cx="210.3" cy="110.8" rx="4.9" ry="6" transform="rotate(15 210.3 110.8)" fill="#e0dcdc" stroke="#cac5c5" stroke-width=".6"/><ellipse cx="180.8" cy="172.4" rx="4.9" ry="6" transform="rotate(15 180.8 172.4)" fill="#e0dcdc" stroke="#cac5c5" stroke-width=".6"/><ellipse cx="106.5" cy="320" rx="4.9" ry="6" transform="rotate(15 106.5 320)" fill="#e0dcdc" stroke="#cac5c5" stroke-width=".6"/><ellipse cx="203.2" cy="129.4" rx="4.9" ry="6" transform="rotate(15 203.2 129.4)" fill="#e0dcdc" stroke="#cac5c5" stroke-width=".6"/><ellipse cx="225.6" cy="86.4" rx="4.9" ry="6" transform="rotate(15 225.6 86.4)" fill="#e0dcdc" stroke="#cac5c5" stroke-width=".6"/><ellipse cx="99.4" cy="338.6" rx="4.9" ry="6" transform="rotate(15 99.4 338.6)" fill="#e0dcdc" stroke="#cac5c5" stroke-width=".6"/><ellipse cx="196.1" cy="148" rx="4.9" ry="6" transform="rotate(15 196.1 148)" fill="#e0dcdc" stroke="#cac5c5" stroke-width=".6"/><ellipse cx="218.5" cy="105" rx="4.9" ry="6" transform="rotate(15 218.5 105)" fill="#e0dcdc" stroke="#cac5c5" stroke-width=".6"/><ellipse cx="189" cy="166.6" rx="4.9" ry="6" transform="rotate(15 189 166.6)" fill="#e0dcdc" stroke="#cac5c5" stroke-width=".6"/><ellipse cx="114.7" cy="314.2" rx="4.9" ry="6" transform="rotate(15 114.7 314.2)" fill="#e0dcdc" stroke="#cac5c5" stroke-width=".6"/><ellipse cx="211.4" cy="123.6" rx="4.9" ry="6" transform="rotate(15 211.4 123.6)" fill="#e0dcdc" stroke="#cac5c5" stroke-width=".6"/><ellipse cx="107.6" cy="332.8" rx="4.9" ry="6" transform="rotate(15 107.6 332.8)" fill="#e0dcdc" stroke="#cac5c5" stroke-width=".6"/><ellipse cx="204.3" cy="142.2" rx="4.9" ry="6" transform="rotate(15 204.3 142.2)" fill="#e0dcdc" stroke="#cac5c5" stroke-width=".6"/><ellipse cx="226.7" cy="99.2" rx="4.9" ry="6" transform="rotate(15 226.7 99.2)" fill="#e0dcdc" stroke="#cac5c5" stroke-width=".6"/><ellipse cx="219.6" cy="117.8" rx="4.9" ry="6" transform="rotate(15 219.6 117.8)" fill="#e0dcdc" stroke="#cac5c5" stroke-width=".6"/><ellipse cx="115.8" cy="327" rx="4.9" ry="6" transform="rotate(15 115.8 327)" fill="#e0dcdc" stroke="#cac5c5" stroke-width=".6"/><ellipse cx="212.5" cy="136.4" rx="4.9" ry="6" transform="rotate(15 212.5 136.4)" fill="#e0dcdc" stroke="#cac5c5" stroke-width=".6"/><ellipse cx="234.9" cy="93.4" rx="4.9" ry="6" transform="rotate(15 234.9 93.4)" fill="#e0dcdc" stroke="#cac5c5" stroke-width=".6"/><ellipse cx="108.7" cy="345.6" rx="4.9" ry="6" transform="rotate(15 108.7 345.6)" fill="#e0dcdc" stroke="#cac5c5" stroke-width=".6"/><ellipse cx="227.8" cy="112" rx="4.9" ry="6" transform="rotate(15 227.8 112)" fill="#e0dcdc" stroke="#cac5c5" stroke-width=".6"/><ellipse cx="124" cy="321.2" rx="4.9" ry="6" transform="rotate(15 124 321.2)" fill="#e0dcdc" stroke="#cac5c5" stroke-width=".6"/><ellipse cx="220.7" cy="130.6" rx="4.9" ry="6" transform="rotate(15 220.7 130.6)" fill="#e0dcdc" stroke="#cac5c5" stroke-width=".6"/><ellipse cx="116.9" cy="339.8" rx="4.9" ry="6" transform="rotate(15 116.9 339.8)" fill="#e0dcdc" stroke="#cac5c5" stroke-width=".6"/><ellipse cx="236" cy="106.2" rx="4.9" ry="6" transform="rotate(15 236 106.2)" fill="#e0dcdc" stroke="#cac5c5" stroke-width=".6"/><ellipse cx="132.2" cy="315.4" rx="4.9" ry="6" transform="rotate(15 132.2 315.4)" fill="#e0dcdc" stroke="#cac5c5" stroke-width=".6"/><ellipse cx="228.9" cy="124.8" rx="4.9" ry="6" transform="rotate(15 228.9 124.8)" fill="#e0dcdc" stroke="#cac5c5" stroke-width=".6"/><ellipse cx="125.1" cy="334" rx="4.9" ry="6" transform="rotate(15 125.1 334)" fill="#e0dcdc" stroke="#cac5c5" stroke-width=".6"/><ellipse cx="244.2" cy="100.4" rx="4.9" ry="6" transform="rotate(15 244.2 100.4)" fill="#e0dcdc" stroke="#cac5c5" stroke-width=".6"/><ellipse cx="118" cy="352.6" rx="4.9" ry="6" transform="rotate(15 118 352.6)" fill="#e0dcdc" stroke="#cac5c5" stroke-width=".6"/><ellipse cx="237.1" cy="119" rx="4.9" ry="6" transform="rotate(15 237.1 119)" fill="#e0dcdc" stroke="#cac5c5" stroke-width=".6"/><ellipse cx="133.3" cy="328.2" rx="4.9" ry="6" transform="rotate(15 133.3 328.2)" fill="#e0dcdc" stroke="#cac5c5" stroke-width=".6"/><ellipse cx="126.2" cy="346.8" rx="4.9" ry="6" transform="rotate(15 126.2 346.8)" fill="#e0dcdc" stroke="#cac5c5" stroke-width=".6"/><ellipse cx="245.3" cy="113.2" rx="4.9" ry="6" transform="rotate(15 245.3 113.2)" fill="#e0dcdc" stroke="#cac5c5" stroke-width=".6"/><ellipse cx="141.5" cy="322.4" rx="4.9" ry="6" transform="rotate(15 141.5 322.4)" fill="#e0dcdc" stroke="#cac5c5" stroke-width=".6"/><ellipse cx="238.2" cy="131.8" rx="4.9" ry="6" transform="rotate(15 238.2 131.8)" fill="#e0dcdc" stroke="#cac5c5" stroke-width=".6"/><ellipse cx="134.4" cy="341" rx="4.9" ry="6" transform="rotate(15 134.4 341)" fill="#e0dcdc" stroke="#cac5c5" stroke-width=".6"/><ellipse cx="253.5" cy="107.4" rx="4.9" ry="6" transform="rotate(15 253.5 107.4)" fill="#e0dcdc" stroke="#cac5c5" stroke-width=".6"/><ellipse cx="127.3" cy="359.6" rx="4.9" ry="6" transform="rotate(15 127.3 359.6)" fill="#e0dcdc" stroke="#cac5c5" stroke-width=".6"/><ellipse cx="246.4" cy="126" rx="4.9" ry="6" transform="rotate(15 246.4 126)" fill="#e0dcdc" stroke="#cac5c5" stroke-width=".6"/><ellipse cx="142.6" cy="335.2" rx="4.9" ry="6" transform="rotate(15 142.6 335.2)" fill="#e0dcdc" stroke="#cac5c5" stroke-width=".6"/><ellipse cx="135.5" cy="353.8" rx="4.9" ry="6" transform="rotate(15 135.5 353.8)" fill="#e0dcdc" stroke="#cac5c5" stroke-width=".6"/><ellipse cx="254.6" cy="120.2" rx="4.9" ry="6" transform="rotate(15 254.6 120.2)" fill="#e0dcdc" stroke="#cac5c5" stroke-width=".6"/><ellipse cx="150.8" cy="329.4" rx="4.9" ry="6" transform="rotate(15 150.8 329.4)" fill="#e0dcdc" stroke="#cac5c5" stroke-width=".6"/><ellipse cx="143.7" cy="348" rx="4.9" ry="6" transform="rotate(15 143.7 348)" fill="#e0dcdc" stroke="#cac5c5" stroke-width=".6"/><ellipse cx="255.7" cy="133" rx="4.9" ry="6" transform="rotate(15 255.7 133)" fill="#e0dcdc" stroke="#cac5c5" stroke-width=".6"/><ellipse cx="151.9" cy="342.2" rx="4.9" ry="6" transform="rotate(15 151.9 342.2)" fill="#e0dcdc" stroke="#cac5c5" stroke-width=".6"/><ellipse cx="144.8" cy="360.8" rx="4.9" ry="6" transform="rotate(15 144.8 360.8)" fill="#e0dcdc" stroke="#cac5c5" stroke-width=".6"/><ellipse cx="160.1" cy="336.4" rx="4.9" ry="6" transform="rotate(15 160.1 336.4)" fill="#e0dcdc" stroke="#cac5c5" stroke-width=".6"/><ellipse cx="153" cy="355" rx="4.9" ry="6" transform="rotate(15 153 355)" fill="#e0dcdc" stroke="#cac5c5" stroke-width=".6"/><ellipse cx="168.3" cy="330.6" rx="4.9" ry="6" transform="rotate(15 168.3 330.6)" fill="#e0dcdc" stroke="#cac5c5" stroke-width=".6"/><ellipse cx="161.2" cy="349.2" rx="4.9" ry="6" transform="rotate(15 161.2 349.2)" fill="#e0dcdc" stroke="#cac5c5" stroke-width=".6"/><ellipse cx="169.4" cy="343.4" rx="4.9" ry="6" transform="rotate(15 169.4 343.4)" fill="#e0dcdc" stroke="#cac5c5" stroke-width=".6"/><ellipse cx="177.6" cy="337.6" rx="4.9" ry="6" transform="rotate(15 177.6 337.6)" fill="#e0dcdc" stroke="#cac5c5" stroke-width=".6"/></g>
<path d="M180,190 C180,187.9 178.3,183.3 180,177.5 C181.7,171.7 185,161.9 190,155 C195,148.1 203,140.6 210,136 C217,131.4 223.3,128.4 232,127.5 C240.7,126.6 257,130 262,130.5 L262,130.5 C266.7,132.5 277.3,137.2 290,142.4 C302.7,147.6 320.7,154.9 338,161.7 C355.3,168.5 384.7,179.7 394,183.3 L394,183.3 C391.6,184 385,184.5 379.7,187.3 C374.4,190.1 367.6,194.7 362,200 C356.4,205.3 350.2,212.4 346,219.4 C341.8,226.4 338.8,234.7 336.5,241.8 C334.2,248.9 332.6,255.6 332.5,262 C332.4,268.4 333.9,274.5 336,280 C338.1,285.5 343.5,292.5 345,295 L345,292 L354,312 L300,300 L180,232Z" fill="url(#tWh)"/>
<g clip-path="url(#tcWh)"><ellipse cx="205" cy="165" rx="34" ry="46" transform="rotate(20 205 165)" fill="#cfcccc" opacity=".8" filter="url(#tBl)"/></g>
<path d="M333,262 L352,312 L372,300 L360,262Z" fill="#cfcccc"/>
<ellipse cx="379" cy="244" rx="41" ry="64" transform="rotate(27 379 244)" fill="url(#tWhEnd)"/>
<path d="M93,308 C91.7,307.2 87.3,305.8 85,303.5 C82.7,301.2 80.7,297.5 79,294 C77.3,290.5 76.5,289.8 75,282.5 C73.5,275.2 70.4,258.3 70,250 C69.6,241.7 70,239.2 72.5,232.5 C75,225.8 79.6,217.9 85,210 C90.4,202.1 98.3,191.2 105,185 C111.7,178.8 118.3,175 125,172.5 C131.7,170 141.7,170.4 145,170 L145,170 L180,178.8 L290,231 L290,231 C283.8,234.2 262.1,241.4 252.5,250 C242.9,258.6 236.7,270.8 232.5,282.5 C228.3,294.2 226.7,307.9 227.5,320 C228.3,332.1 232.1,346 237.5,355 C242.9,364 256.2,370.8 260,374 L260,374 C256.7,372.9 251.7,371.9 240,367.5 C228.3,363.1 206.7,354.4 190,347.5 C173.3,340.6 153.3,331.5 140,326 C126.7,320.5 117.8,317.5 110,314.5 C102.2,311.5 95.8,309.1 93,308Z" fill="url(#tRed)"/>
<g clip-path="url(#tcRed)"><ellipse cx="88" cy="262" rx="22" ry="66" transform="rotate(14 88 262)" fill="#8e0000" opacity=".55" filter="url(#tBl)"/></g>
<ellipse cx="279" cy="303" rx="50.5" ry="73.5" transform="rotate(13 279 303)" fill="url(#tRedEnd)"/>
<path d="M530,276 L573.3,294.2 L613.3,311.7 L653.3,328.3 L653.3,328.3 C655.7,331.6 665.8,341.9 667.5,348.3 C669.2,354.7 667.3,360 663.3,366.7 C659.3,373.4 646.6,384.7 643.3,388.3 L640,388.3 L596.7,375 L546.7,358.3 L505,343Z" fill="url(#tp1)"/><g clip-path="url(#tcS1)"><path d="M538.9,273 L692.4,338.5 L681.1,365.1 L527.5,299.6Z" fill="url(#tp2)"/></g><g clip-path="url(#tcS1)"><path d="M515.6,324.3 L685.1,378.7 L676.2,406.3 L506.8,351.8Z" fill="url(#tp3)"/></g><path d="M530,276 L573.3,294.2 L613.3,311.7 L653.3,328.3 L653.3,328.3 C655.7,331.6 665.8,341.9 667.5,348.3 C669.2,354.7 667.3,360 663.3,366.7 C659.3,373.4 646.6,384.7 643.3,388.3 L640,388.3 L596.7,375 L546.7,358.3 L505,343Z" fill="url(#tgC2i)"/>
<g transform="translate(648.5,358.3) rotate(9.5)"><ellipse rx="19.2" ry="30.6" fill="#83461b"/><g fill="#c6824a" stroke="#8a4a1e" stroke-width=".5"><ellipse cx="0" cy="0" rx="2.2" ry="3.4"/><ellipse cx="3.9" cy="1.4" rx="2.2" ry="3.4"/><ellipse cx="1.3" cy="6.4" rx="2.2" ry="3.4"/><ellipse cx="-2.6" cy="5.1" rx="2.2" ry="3.4"/><ellipse cx="-3.9" cy="-1.4" rx="2.2" ry="3.4"/><ellipse cx="-1.3" cy="-6.4" rx="2.2" ry="3.4"/><ellipse cx="2.6" cy="-5.1" rx="2.2" ry="3.4"/><ellipse cx="7.3" cy="5.3" rx="2.2" ry="3.4"/><ellipse cx="4.8" cy="10.8" rx="2.2" ry="3.4"/><ellipse cx="1" cy="13.5" rx="2.2" ry="3.4"/><ellipse cx="-3.1" cy="12.5" rx="2.2" ry="3.4"/><ellipse cx="-6.3" cy="8.2" rx="2.2" ry="3.4"/><ellipse cx="-7.8" cy="1.7" rx="2.2" ry="3.4"/><ellipse cx="-7.3" cy="-5.3" rx="2.2" ry="3.4"/><ellipse cx="-4.8" cy="-10.8" rx="2.2" ry="3.4"/><ellipse cx="-1" cy="-13.5" rx="2.2" ry="3.4"/><ellipse cx="3.1" cy="-12.5" rx="2.2" ry="3.4"/><ellipse cx="6.3" cy="-8.2" rx="2.2" ry="3.4"/><ellipse cx="7.8" cy="-1.7" rx="2.2" ry="3.4"/><ellipse cx="9.8" cy="11.5" rx="2.2" ry="3.4"/><ellipse cx="6.9" cy="16.6" rx="2.2" ry="3.4"/><ellipse cx="3.2" cy="19.6" rx="2.2" ry="3.4"/><ellipse cx="-0.9" cy="20.3" rx="2.2" ry="3.4"/><ellipse cx="-4.9" cy="18.6" rx="2.2" ry="3.4"/><ellipse cx="-8.3" cy="14.6" rx="2.2" ry="3.4"/><ellipse cx="-10.7" cy="8.8" rx="2.2" ry="3.4"/><ellipse cx="-11.8" cy="2" rx="2.2" ry="3.4"/><ellipse cx="-11.5" cy="-5.1" rx="2.2" ry="3.4"/><ellipse cx="-9.8" cy="-11.5" rx="2.2" ry="3.4"/><ellipse cx="-6.9" cy="-16.6" rx="2.2" ry="3.4"/><ellipse cx="-3.2" cy="-19.6" rx="2.2" ry="3.4"/><ellipse cx="0.9" cy="-20.3" rx="2.2" ry="3.4"/><ellipse cx="4.9" cy="-18.6" rx="2.2" ry="3.4"/><ellipse cx="8.3" cy="-14.6" rx="2.2" ry="3.4"/><ellipse cx="10.7" cy="-8.8" rx="2.2" ry="3.4"/><ellipse cx="11.8" cy="-2" rx="2.2" ry="3.4"/><ellipse cx="11.5" cy="5.1" rx="2.2" ry="3.4"/><ellipse cx="11" cy="19.5" rx="2.2" ry="3.4"/><ellipse cx="7.7" cy="23.8" rx="2.2" ry="3.4"/><ellipse cx="3.9" cy="26.4" rx="2.2" ry="3.4"/><ellipse cx="-0.2" cy="27.2" rx="2.2" ry="3.4"/><ellipse cx="-4.3" cy="26.2" rx="2.2" ry="3.4"/><ellipse cx="-8.1" cy="23.4" rx="2.2" ry="3.4"/><ellipse cx="-11.3" cy="19" rx="2.2" ry="3.4"/><ellipse cx="-13.8" cy="13.3" rx="2.2" ry="3.4"/><ellipse cx="-15.3" cy="6.7" rx="2.2" ry="3.4"/><ellipse cx="-15.8" cy="-0.4" rx="2.2" ry="3.4"/><ellipse cx="-15.2" cy="-7.4" rx="2.2" ry="3.4"/><ellipse cx="-13.6" cy="-13.9" rx="2.2" ry="3.4"/><ellipse cx="-11" cy="-19.5" rx="2.2" ry="3.4"/><ellipse cx="-7.7" cy="-23.8" rx="2.2" ry="3.4"/><ellipse cx="-3.9" cy="-26.4" rx="2.2" ry="3.4"/><ellipse cx="0.2" cy="-27.2" rx="2.2" ry="3.4"/><ellipse cx="4.3" cy="-26.2" rx="2.2" ry="3.4"/><ellipse cx="8.1" cy="-23.4" rx="2.2" ry="3.4"/><ellipse cx="11.3" cy="-19" rx="2.2" ry="3.4"/><ellipse cx="13.8" cy="-13.3" rx="2.2" ry="3.4"/><ellipse cx="15.3" cy="-6.7" rx="2.2" ry="3.4"/><ellipse cx="15.8" cy="0.4" rx="2.2" ry="3.4"/><ellipse cx="15.2" cy="7.4" rx="2.2" ry="3.4"/><ellipse cx="13.6" cy="13.9" rx="2.2" ry="3.4"/></g><ellipse rx="19.2" ry="30.6" fill="url(#tgEF)"/></g>
<path d="M440,236 L480,253.3 L530,273.3 L570,289.5 L570,290 C567,290.6 557,290.8 551.7,293.3 C546.4,295.8 541.9,300.3 538.3,305 C534.7,309.7 531.7,315.9 530,321.7 C528.3,327.5 527.8,334.7 528.3,340 C528.8,345.3 530.2,350.2 533.3,353.3 C536.4,356.4 544.5,357.5 546.7,358.3 L546.7,358.3 L513.3,346.7 L480,333 L453,331 L410,312Z" fill="url(#tp4)"/><g clip-path="url(#tcS4)"><path d="M445.1,232.8 L609.3,298.9 L598.2,326.5 L434,260.4Z" fill="url(#tp5)"/></g><g clip-path="url(#tcS4)"><path d="M419.4,291.7 L592.1,348.1 L582.9,376.4 L410.1,320Z" fill="url(#tp6)"/></g><path d="M440,236 L480,253.3 L530,273.3 L570,289.5 L570,290 C567,290.6 557,290.8 551.7,293.3 C546.4,295.8 541.9,300.3 538.3,305 C534.7,309.7 531.7,315.9 530,321.7 C528.3,327.5 527.8,334.7 528.3,340 C528.8,345.3 530.2,350.2 533.3,353.3 C536.4,356.4 544.5,357.5 546.7,358.3 L546.7,358.3 L513.3,346.7 L480,333 L453,331 L410,312Z" fill="url(#tgC2m)"/>
<path d="M570,290 C567,290.6 557,290.8 551.7,293.3 C546.4,295.8 541.9,300.3 538.3,305 C534.7,309.7 531.7,315.9 530,321.7 C528.3,327.5 527.8,334.7 528.3,340 C528.8,345.3 530.2,350.2 533.3,353.3 C536.4,356.4 544.5,357.5 546.7,358.3" fill="none" stroke="#b06a38" stroke-width="4.2" stroke-linecap="round"/><path d="M570,290 C567,290.6 557,290.8 551.7,293.3 C546.4,295.8 541.9,300.3 538.3,305 C534.7,309.7 531.7,315.9 530,321.7 C528.3,327.5 527.8,334.7 528.3,340 C528.8,345.3 530.2,350.2 533.3,353.3 C536.4,356.4 544.5,357.5 546.7,358.3" fill="none" stroke="#e0a070" stroke-width="2.9" stroke-dasharray="2.2 1.1" stroke-linecap="butt"/>
<path d="M356.7,292 C355.6,289.7 351.7,283.4 350,278.3 C348.3,273.2 346.4,267.5 346.7,261.7 C347,255.9 348.9,249.7 351.7,243.3 C354.5,236.9 358.9,228.7 363.3,223.3 C367.7,217.9 375.8,212.9 378.3,210.8 L378.3,210.8 L423.3,223.3 L463.3,240 L480,246.7 L476.7,245.8 C473.4,246.8 462.3,248.5 456.7,251.7 C451.1,254.9 446.9,259.7 443.3,265 C439.7,270.3 436.9,277.5 435,283.3 C433.1,289.1 431.4,294.4 431.7,300 C432,305.6 433.6,312.2 436.7,316.7 C439.8,321.1 447.8,325 450,326.7 L452,331.5 L436.7,326 L385,306 L356.7,292Z" fill="url(#tp7)"/><g clip-path="url(#tcS7)"><path d="M342.6,191.8 L519.7,254.4 L509.5,283.2 L332.4,220.6Z" fill="url(#tp8)"/></g><g clip-path="url(#tcS7)"><path d="M329.6,251.7 L496.4,323.2 L484.4,351.3 L317.6,279.8Z" fill="url(#tp9)"/></g><path d="M356.7,292 C355.6,289.7 351.7,283.4 350,278.3 C348.3,273.2 346.4,267.5 346.7,261.7 C347,255.9 348.9,249.7 351.7,243.3 C354.5,236.9 358.9,228.7 363.3,223.3 C367.7,217.9 375.8,212.9 378.3,210.8 L378.3,210.8 L423.3,223.3 L463.3,240 L480,246.7 L476.7,245.8 C473.4,246.8 462.3,248.5 456.7,251.7 C451.1,254.9 446.9,259.7 443.3,265 C439.7,270.3 436.9,277.5 435,283.3 C433.1,289.1 431.4,294.4 431.7,300 C432,305.6 433.6,312.2 436.7,316.7 C439.8,321.1 447.8,325 450,326.7 L452,331.5 L436.7,326 L385,306 L356.7,292Z" fill="url(#tgC2o)"/>
<path d="M476.7,245.8 C473.4,246.8 462.3,248.5 456.7,251.7 C451.1,254.9 446.9,259.7 443.3,265 C439.7,270.3 436.9,277.5 435,283.3 C433.1,289.1 431.4,294.4 431.7,300 C432,305.6 433.6,312.2 436.7,316.7 C439.8,321.1 447.8,325 450,326.7" fill="none" stroke="#b06a38" stroke-width="4.5" stroke-linecap="round"/><path d="M476.7,245.8 C473.4,246.8 462.3,248.5 456.7,251.7 C451.1,254.9 446.9,259.7 443.3,265 C439.7,270.3 436.9,277.5 435,283.3 C433.1,289.1 431.4,294.4 431.7,300 C432,305.6 433.6,312.2 436.7,316.7 C439.8,321.1 447.8,325 450,326.7" fill="none" stroke="#e0a070" stroke-width="3.1" stroke-dasharray="2.2 1.1" stroke-linecap="butt"/>
<path d="M430,321 L470,340 L503.3,358.3 L536.7,373.3 L553.3,381.7 L553.3,381.7 C555.8,384.8 566.3,393.6 568.3,400 C570.2,406.4 569.2,412.4 565,420 C560.8,427.6 546.9,441.5 543.3,445.8 L543.3,445.8 L520,440 L486.7,428.3 L443.3,411.7 L405,396Z" fill="url(#tp10)"/><g clip-path="url(#tcS10)"><path d="M436.9,316.7 L591.8,394.2 L577.8,422.1 L423,344.5Z" fill="url(#tp11)"/></g><g clip-path="url(#tcS10)"><path d="M413.5,375 L589.3,435 L579.2,464.4 L403.5,404.5Z" fill="url(#tp12)"/></g><path d="M430,321 L470,340 L503.3,358.3 L536.7,373.3 L553.3,381.7 L553.3,381.7 C555.8,384.8 566.3,393.6 568.3,400 C570.2,406.4 569.2,412.4 565,420 C560.8,427.6 546.9,441.5 543.3,445.8 L543.3,445.8 L520,440 L486.7,428.3 L443.3,411.7 L405,396Z" fill="url(#tgC1i)"/>
<g transform="translate(549.5,413.5) rotate(9.5)"><ellipse rx="19.5" ry="32.6" fill="#83461b"/><g fill="#c6824a" stroke="#8a4a1e" stroke-width=".5"><ellipse cx="0" cy="0" rx="2.3" ry="3.6"/><ellipse cx="3.9" cy="1.4" rx="2.3" ry="3.6"/><ellipse cx="1.3" cy="6.9" rx="2.3" ry="3.6"/><ellipse cx="-2.6" cy="5.4" rx="2.3" ry="3.6"/><ellipse cx="-3.9" cy="-1.4" rx="2.3" ry="3.6"/><ellipse cx="-1.3" cy="-6.9" rx="2.3" ry="3.6"/><ellipse cx="2.6" cy="-5.4" rx="2.3" ry="3.6"/><ellipse cx="7.3" cy="5.6" rx="2.3" ry="3.6"/><ellipse cx="4.8" cy="11.6" rx="2.3" ry="3.6"/><ellipse cx="1" cy="14.4" rx="2.3" ry="3.6"/><ellipse cx="-3.1" cy="13.3" rx="2.3" ry="3.6"/><ellipse cx="-6.3" cy="8.7" rx="2.3" ry="3.6"/><ellipse cx="-7.9" cy="1.8" rx="2.3" ry="3.6"/><ellipse cx="-7.3" cy="-5.6" rx="2.3" ry="3.6"/><ellipse cx="-4.8" cy="-11.6" rx="2.3" ry="3.6"/><ellipse cx="-1" cy="-14.4" rx="2.3" ry="3.6"/><ellipse cx="3.1" cy="-13.3" rx="2.3" ry="3.6"/><ellipse cx="6.3" cy="-8.7" rx="2.3" ry="3.6"/><ellipse cx="7.9" cy="-1.8" rx="2.3" ry="3.6"/><ellipse cx="9.8" cy="12.3" rx="2.3" ry="3.6"/><ellipse cx="6.9" cy="17.7" rx="2.3" ry="3.6"/><ellipse cx="3.2" cy="20.9" rx="2.3" ry="3.6"/><ellipse cx="-0.9" cy="21.7" rx="2.3" ry="3.6"/><ellipse cx="-4.9" cy="19.8" rx="2.3" ry="3.6"/><ellipse cx="-8.3" cy="15.5" rx="2.3" ry="3.6"/><ellipse cx="-10.7" cy="9.4" rx="2.3" ry="3.6"/><ellipse cx="-11.9" cy="2.1" rx="2.3" ry="3.6"/><ellipse cx="-11.5" cy="-5.4" rx="2.3" ry="3.6"/><ellipse cx="-9.8" cy="-12.3" rx="2.3" ry="3.6"/><ellipse cx="-6.9" cy="-17.7" rx="2.3" ry="3.6"/><ellipse cx="-3.2" cy="-20.9" rx="2.3" ry="3.6"/><ellipse cx="0.9" cy="-21.7" rx="2.3" ry="3.6"/><ellipse cx="4.9" cy="-19.8" rx="2.3" ry="3.6"/><ellipse cx="8.3" cy="-15.5" rx="2.3" ry="3.6"/><ellipse cx="10.7" cy="-9.4" rx="2.3" ry="3.6"/><ellipse cx="11.9" cy="-2.1" rx="2.3" ry="3.6"/><ellipse cx="11.5" cy="5.4" rx="2.3" ry="3.6"/><ellipse cx="11.1" cy="20.8" rx="2.3" ry="3.6"/><ellipse cx="7.7" cy="25.3" rx="2.3" ry="3.6"/><ellipse cx="3.9" cy="28.1" rx="2.3" ry="3.6"/><ellipse cx="-0.2" cy="29" rx="2.3" ry="3.6"/><ellipse cx="-4.3" cy="27.9" rx="2.3" ry="3.6"/><ellipse cx="-8.1" cy="24.9" rx="2.3" ry="3.6"/><ellipse cx="-11.4" cy="20.2" rx="2.3" ry="3.6"/><ellipse cx="-13.9" cy="14.1" rx="2.3" ry="3.6"/><ellipse cx="-15.4" cy="7.1" rx="2.3" ry="3.6"/><ellipse cx="-15.9" cy="-0.4" rx="2.3" ry="3.6"/><ellipse cx="-15.3" cy="-7.9" rx="2.3" ry="3.6"/><ellipse cx="-13.6" cy="-14.9" rx="2.3" ry="3.6"/><ellipse cx="-11.1" cy="-20.8" rx="2.3" ry="3.6"/><ellipse cx="-7.7" cy="-25.3" rx="2.3" ry="3.6"/><ellipse cx="-3.9" cy="-28.1" rx="2.3" ry="3.6"/><ellipse cx="0.2" cy="-29" rx="2.3" ry="3.6"/><ellipse cx="4.3" cy="-27.9" rx="2.3" ry="3.6"/><ellipse cx="8.1" cy="-24.9" rx="2.3" ry="3.6"/><ellipse cx="11.4" cy="-20.2" rx="2.3" ry="3.6"/><ellipse cx="13.9" cy="-14.1" rx="2.3" ry="3.6"/><ellipse cx="15.4" cy="-7.1" rx="2.3" ry="3.6"/><ellipse cx="15.9" cy="0.4" rx="2.3" ry="3.6"/><ellipse cx="15.3" cy="7.9" rx="2.3" ry="3.6"/><ellipse cx="13.6" cy="14.9" rx="2.3" ry="3.6"/></g><ellipse rx="19.5" ry="32.6" fill="url(#tgEF)"/></g>
<path d="M335,276 L375,294.2 L413.3,316.7 L446.7,330 L473.3,345 L470,345 C466.9,345.8 457,347.2 451.7,350 C446.4,352.8 441.9,357.2 438.3,361.7 C434.7,366.1 431.9,371.4 430,376.7 C428.1,382 426.7,388.3 426.7,393.3 C426.7,398.3 427.2,403.5 430,406.7 C432.8,409.9 441.1,411.5 443.3,412.5 L443.3,412.5 L423.3,403.3 L396.7,395 L356.7,380 L310,362Z" fill="url(#tp13)"/><g clip-path="url(#tcS13)"><path d="M342.2,270.5 L511.6,358 L497.2,385.9 L327.8,298.4Z" fill="url(#tp14)"/></g><g clip-path="url(#tcS13)"><path d="M328.2,342.2 L489.7,402.8 L478.6,432.2 L317.1,371.6Z" fill="url(#tp15)"/></g><path d="M335,276 L375,294.2 L413.3,316.7 L446.7,330 L473.3,345 L470,345 C466.9,345.8 457,347.2 451.7,350 C446.4,352.8 441.9,357.2 438.3,361.7 C434.7,366.1 431.9,371.4 430,376.7 C428.1,382 426.7,388.3 426.7,393.3 C426.7,398.3 427.2,403.5 430,406.7 C432.8,409.9 441.1,411.5 443.3,412.5 L443.3,412.5 L423.3,403.3 L396.7,395 L356.7,380 L310,362Z" fill="url(#tgC1m)"/>
<path d="M470,345 C466.9,345.8 457,347.2 451.7,350 C446.4,352.8 441.9,357.2 438.3,361.7 C434.7,366.1 431.9,371.4 430,376.7 C428.1,382 426.7,388.3 426.7,393.3 C426.7,398.3 427.2,403.5 430,406.7 C432.8,409.9 441.1,411.5 443.3,412.5" fill="none" stroke="#b06a38" stroke-width="4.2" stroke-linecap="round"/><path d="M470,345 C466.9,345.8 457,347.2 451.7,350 C446.4,352.8 441.9,357.2 438.3,361.7 C434.7,366.1 431.9,371.4 430,376.7 C428.1,382 426.7,388.3 426.7,393.3 C426.7,398.3 427.2,403.5 430,406.7 C432.8,409.9 441.1,411.5 443.3,412.5" fill="none" stroke="#e0a070" stroke-width="2.9" stroke-dasharray="2.2 1.1" stroke-linecap="butt"/>
<path d="M263.3,350 C261.1,347.8 252.9,341.7 250,336.7 C247.1,331.7 246.4,325 245.8,320 C245.2,315 245.2,312.2 246.7,306.7 C248.2,301.1 251.4,293.1 255,286.7 C258.6,280.3 263.3,273 268.3,268.3 C273.3,263.6 282.2,260 285,258.3 L285,258.3 L330,273.3 L363.3,291.7 L376.7,295 L375,294 C371.7,295.3 360.8,297.9 355,301.7 C349.2,305.5 343.6,311.1 340,316.7 C336.4,322.2 335,328.6 333.3,335 C331.6,341.4 329.7,349.2 330,355 C330.3,360.8 332.2,366.1 335,370 C337.8,373.9 343.1,376.5 346.7,378.3 C350.3,380.1 355,380.4 356.7,380.8 L356.7,380.8 L323.3,375 L290,363.3 L263.3,350Z" fill="url(#tp16)"/><g clip-path="url(#tcS16)"><path d="M250.1,237.9 L416.1,304.3 L403.4,335.8 L237.5,269.4Z" fill="url(#tp17)"/></g><g clip-path="url(#tcS16)"><path d="M234.1,310.9 L403.4,366.8 L392.8,399 L223.4,343.2Z" fill="url(#tp18)"/></g><path d="M263.3,350 C261.1,347.8 252.9,341.7 250,336.7 C247.1,331.7 246.4,325 245.8,320 C245.2,315 245.2,312.2 246.7,306.7 C248.2,301.1 251.4,293.1 255,286.7 C258.6,280.3 263.3,273 268.3,268.3 C273.3,263.6 282.2,260 285,258.3 L285,258.3 L330,273.3 L363.3,291.7 L376.7,295 L375,294 C371.7,295.3 360.8,297.9 355,301.7 C349.2,305.5 343.6,311.1 340,316.7 C336.4,322.2 335,328.6 333.3,335 C331.6,341.4 329.7,349.2 330,355 C330.3,360.8 332.2,366.1 335,370 C337.8,373.9 343.1,376.5 346.7,378.3 C350.3,380.1 355,380.4 356.7,380.8 L356.7,380.8 L323.3,375 L290,363.3 L263.3,350Z" fill="url(#tgC1o)"/>
<path d="M375,294 C371.7,295.3 360.8,297.9 355,301.7 C349.2,305.5 343.6,311.1 340,316.7 C336.4,322.2 335,328.6 333.3,335 C331.6,341.4 329.7,349.2 330,355 C330.3,360.8 332.2,366.1 335,370 C337.8,373.9 343.1,376.5 346.7,378.3 C350.3,380.1 355,380.4 356.7,380.8" fill="none" stroke="#b06a38" stroke-width="4.5" stroke-linecap="round"/><path d="M375,294 C371.7,295.3 360.8,297.9 355,301.7 C349.2,305.5 343.6,311.1 340,316.7 C336.4,322.2 335,328.6 333.3,335 C331.6,341.4 329.7,349.2 330,355 C330.3,360.8 332.2,366.1 335,370 C337.8,373.9 343.1,376.5 346.7,378.3 C350.3,380.1 355,380.4 356.7,380.8" fill="none" stroke="#e0a070" stroke-width="3.1" stroke-dasharray="2.2 1.1" stroke-linecap="butt"/>
</g>
<g id="cross">
<ellipse cx="197.75" cy="667.55" rx="158.1" ry="158.4" fill="url(#gPur)"/>
<ellipse cx="196.9" cy="669.4" rx="150.9" ry="152" fill="#161616"/>
<ellipse cx="196.6" cy="669.85" rx="129.4" ry="130.5" fill="url(#gCuR)"/>
<ellipse cx="195.5" cy="670.3" rx="121.4" ry="122.7" fill="#d8dfca"/>
<ellipse cx="195.65" cy="670.35" rx="118.75" ry="120.35" fill="#d3d9c6"/>
<ellipse cx="195.65" cy="670.35" rx="113.2" ry="114.8" fill="#b6b8a4"/>
<ellipse cx="195.65" cy="670.35" rx="106.8" ry="108.3" fill="#84846e"/>
<g fill="#e1dadd" stroke="#c4bcbf" stroke-width=".5"><circle cx="304.6" cy="704.4" r="4.15"/><circle cx="301.8" cy="712.6" r="4.15"/><circle cx="298.4" cy="720.5" r="4.15"/><circle cx="294.4" cy="728.2" r="4.15"/><circle cx="289.9" cy="735.5" r="4.15"/><circle cx="284.8" cy="742.5" r="4.15"/><circle cx="279.3" cy="749" r="4.15"/><circle cx="273.2" cy="755.1" r="4.15"/><circle cx="266.8" cy="760.8" r="4.15"/><circle cx="259.9" cy="765.9" r="4.15"/><circle cx="252.7" cy="770.5" r="4.15"/><circle cx="245.1" cy="774.5" r="4.15"/><circle cx="237.3" cy="778" r="4.15"/><circle cx="229.3" cy="780.9" r="4.15"/><circle cx="221" cy="783.1" r="4.15"/><circle cx="212.6" cy="784.7" r="4.15"/><circle cx="204.2" cy="785.7" r="4.15"/><circle cx="195.7" cy="786" r="4.15"/><circle cx="187.1" cy="785.7" r="4.15"/><circle cx="178.7" cy="784.7" r="4.15"/><circle cx="170.3" cy="783.1" r="4.15"/><circle cx="162" cy="780.9" r="4.15"/><circle cx="154" cy="778" r="4.15"/><circle cx="146.2" cy="774.5" r="4.15"/><circle cx="138.6" cy="770.5" r="4.15"/><circle cx="131.4" cy="765.9" r="4.15"/><circle cx="124.5" cy="760.8" r="4.15"/><circle cx="118.1" cy="755.1" r="4.15"/><circle cx="112" cy="749" r="4.15"/><circle cx="106.5" cy="742.5" r="4.15"/><circle cx="101.4" cy="735.5" r="4.15"/><circle cx="96.9" cy="728.2" r="4.15"/><circle cx="92.9" cy="720.5" r="4.15"/><circle cx="89.5" cy="712.6" r="4.15"/><circle cx="86.7" cy="704.4" r="4.15"/><circle cx="84.5" cy="696.1" r="4.15"/><circle cx="82.9" cy="687.6" r="4.15"/><circle cx="81.9" cy="679" r="4.15"/><circle cx="82.9" cy="653.1" r="4.15"/><circle cx="84.5" cy="644.6" r="4.15"/><circle cx="86.7" cy="636.3" r="4.15"/><circle cx="89.5" cy="628.1" r="4.15"/><circle cx="92.9" cy="620.2" r="4.15"/><circle cx="96.9" cy="612.5" r="4.15"/><circle cx="101.4" cy="605.2" r="4.15"/><circle cx="106.5" cy="598.2" r="4.15"/><circle cx="112" cy="591.7" r="4.15"/><circle cx="118.1" cy="585.6" r="4.15"/><circle cx="124.5" cy="579.9" r="4.15"/><circle cx="131.4" cy="574.8" r="4.15"/><circle cx="138.6" cy="570.2" r="4.15"/><circle cx="146.2" cy="566.2" r="4.15"/><circle cx="154" cy="562.7" r="4.15"/><circle cx="162" cy="559.8" r="4.15"/><circle cx="170.3" cy="557.6" r="4.15"/><circle cx="178.7" cy="556" r="4.15"/><circle cx="187.1" cy="555" r="4.15"/><circle cx="195.6" cy="554.7" r="4.15"/><circle cx="204.2" cy="555" r="4.15"/><circle cx="212.6" cy="556" r="4.15"/><circle cx="221" cy="557.6" r="4.15"/><circle cx="229.3" cy="559.8" r="4.15"/><circle cx="237.3" cy="562.7" r="4.15"/><circle cx="245.1" cy="566.2" r="4.15"/><circle cx="252.7" cy="570.2" r="4.15"/><circle cx="259.9" cy="574.8" r="4.15"/><circle cx="266.8" cy="579.9" r="4.15"/><circle cx="273.2" cy="585.6" r="4.15"/><circle cx="279.3" cy="591.7" r="4.15"/><circle cx="284.8" cy="598.2" r="4.15"/><circle cx="289.9" cy="605.2" r="4.15"/><circle cx="294.4" cy="612.5" r="4.15"/><circle cx="298.4" cy="620.2" r="4.15"/><circle cx="301.8" cy="628.1" r="4.15"/><circle cx="103.2" cy="616.3" r="4.15"/><circle cx="100.7" cy="711.9" r="4.15"/><circle cx="100.5" cy="720.6" r="4.15"/><circle cx="112.2" cy="607.8" r="4.15"/><circle cx="111.9" cy="616.5" r="4.15"/><circle cx="109.2" cy="720.9" r="4.15"/><circle cx="109" cy="729.6" r="4.15"/><circle cx="121.1" cy="599.3" r="4.15"/><circle cx="120.9" cy="608" r="4.15"/><circle cx="117.7" cy="729.8" r="4.15"/><circle cx="117.5" cy="738.5" r="4.15"/><circle cx="130" cy="590.9" r="4.15"/><circle cx="129.8" cy="599.6" r="4.15"/><circle cx="129.6" cy="608.2" r="4.15"/><circle cx="126.4" cy="730" r="4.15"/><circle cx="126.2" cy="738.7" r="4.15"/><circle cx="125.9" cy="747.4" r="4.15"/><circle cx="138.9" cy="582.4" r="4.15"/><circle cx="138.7" cy="591.1" r="4.15"/><circle cx="138.5" cy="599.8" r="4.15"/><circle cx="138.3" cy="608.5" r="4.15"/><circle cx="135.1" cy="730.2" r="4.15"/><circle cx="134.8" cy="738.9" r="4.15"/><circle cx="134.6" cy="747.6" r="4.15"/><circle cx="134.4" cy="756.3" r="4.15"/><circle cx="147.9" cy="573.9" r="4.15"/><circle cx="147.6" cy="582.6" r="4.15"/><circle cx="147.4" cy="591.3" r="4.15"/><circle cx="147.2" cy="600" r="4.15"/><circle cx="147" cy="608.7" r="4.15"/><circle cx="143.8" cy="730.5" r="4.15"/><circle cx="143.5" cy="739.2" r="4.15"/><circle cx="143.3" cy="747.9" r="4.15"/><circle cx="143.1" cy="756.6" r="4.15"/><circle cx="156.6" cy="574.1" r="4.15"/><circle cx="156.3" cy="582.8" r="4.15"/><circle cx="156.1" cy="591.5" r="4.15"/><circle cx="155.9" cy="600.2" r="4.15"/><circle cx="155.7" cy="608.9" r="4.15"/><circle cx="152.5" cy="730.7" r="4.15"/><circle cx="152.2" cy="739.4" r="4.15"/><circle cx="152" cy="748.1" r="4.15"/><circle cx="151.8" cy="756.8" r="4.15"/><circle cx="151.6" cy="765.5" r="4.15"/><circle cx="165.3" cy="574.4" r="4.15"/><circle cx="165" cy="583.1" r="4.15"/><circle cx="164.8" cy="591.8" r="4.15"/><circle cx="164.6" cy="600.5" r="4.15"/><circle cx="164.4" cy="609.2" r="4.15"/><circle cx="164.1" cy="617.9" r="4.15"/><circle cx="161.4" cy="722.2" r="4.15"/><circle cx="161.2" cy="730.9" r="4.15"/><circle cx="160.9" cy="739.6" r="4.15"/><circle cx="160.7" cy="748.3" r="4.15"/><circle cx="160.5" cy="757" r="4.15"/><circle cx="160.3" cy="765.7" r="4.15"/><circle cx="174.2" cy="565.9" r="4.15"/><circle cx="174" cy="574.6" r="4.15"/><circle cx="173.7" cy="583.3" r="4.15"/><circle cx="173.5" cy="592" r="4.15"/><circle cx="173.3" cy="600.7" r="4.15"/><circle cx="173.1" cy="609.4" r="4.15"/><circle cx="172.8" cy="618.1" r="4.15"/><circle cx="170.1" cy="722.4" r="4.15"/><circle cx="169.9" cy="731.1" r="4.15"/><circle cx="169.6" cy="739.8" r="4.15"/><circle cx="169.4" cy="748.5" r="4.15"/><circle cx="169.2" cy="757.2" r="4.15"/><circle cx="169" cy="765.9" r="4.15"/><circle cx="168.7" cy="774.6" r="4.15"/><circle cx="182.9" cy="566.1" r="4.15"/><circle cx="182.7" cy="574.8" r="4.15"/><circle cx="182.4" cy="583.5" r="4.15"/><circle cx="182.2" cy="592.2" r="4.15"/><circle cx="182" cy="600.9" r="4.15"/><circle cx="181.8" cy="609.6" r="4.15"/><circle cx="181.5" cy="618.3" r="4.15"/><circle cx="181.3" cy="627" r="4.15"/><circle cx="179" cy="714" r="4.15"/><circle cx="178.8" cy="722.7" r="4.15"/><circle cx="178.6" cy="731.4" r="4.15"/><circle cx="178.3" cy="740.1" r="4.15"/><circle cx="178.1" cy="748.8" r="4.15"/><circle cx="177.9" cy="757.5" r="4.15"/><circle cx="177.7" cy="766.2" r="4.15"/><circle cx="177.4" cy="774.9" r="4.15"/><circle cx="191.6" cy="566.4" r="4.15"/><circle cx="191.4" cy="575.1" r="4.15"/><circle cx="191.1" cy="583.8" r="4.15"/><circle cx="190.9" cy="592.4" r="4.15"/><circle cx="190.7" cy="601.1" r="4.15"/><circle cx="190.4" cy="609.8" r="4.15"/><circle cx="190.2" cy="618.5" r="4.15"/><circle cx="190" cy="627.2" r="4.15"/><circle cx="189.8" cy="635.9" r="4.15"/><circle cx="189.5" cy="644.6" r="4.15"/><circle cx="188.2" cy="696.8" r="4.15"/><circle cx="187.9" cy="705.5" r="4.15"/><circle cx="187.7" cy="714.2" r="4.15"/><circle cx="187.5" cy="722.9" r="4.15"/><circle cx="187.3" cy="731.6" r="4.15"/><circle cx="187" cy="740.3" r="4.15"/><circle cx="186.8" cy="749" r="4.15"/><circle cx="186.6" cy="757.7" r="4.15"/><circle cx="186.3" cy="766.4" r="4.15"/><circle cx="186.1" cy="775.1" r="4.15"/><circle cx="200.3" cy="566.6" r="4.15"/><circle cx="200.1" cy="575.3" r="4.15"/><circle cx="199.8" cy="584" r="4.15"/><circle cx="199.6" cy="592.7" r="4.15"/><circle cx="199.4" cy="601.4" r="4.15"/><circle cx="199.1" cy="610.1" r="4.15"/><circle cx="198.9" cy="618.8" r="4.15"/><circle cx="198.7" cy="627.5" r="4.15"/><circle cx="198.5" cy="636.2" r="4.15"/><circle cx="198.2" cy="644.9" r="4.15"/><circle cx="198" cy="653.6" r="4.15"/><circle cx="197.8" cy="662.3" r="4.15"/><circle cx="197.5" cy="671" r="4.15"/><circle cx="197.3" cy="679.6" r="4.15"/><circle cx="197.1" cy="688.3" r="4.15"/><circle cx="196.9" cy="697" r="4.15"/><circle cx="196.6" cy="705.7" r="4.15"/><circle cx="196.4" cy="714.4" r="4.15"/><circle cx="196.2" cy="723.1" r="4.15"/><circle cx="196" cy="731.8" r="4.15"/><circle cx="195.7" cy="740.5" r="4.15"/><circle cx="195.5" cy="749.2" r="4.15"/><circle cx="195.3" cy="757.9" r="4.15"/><circle cx="195" cy="766.6" r="4.15"/><circle cx="194.8" cy="775.3" r="4.15"/><circle cx="209" cy="566.8" r="4.15"/><circle cx="208.8" cy="575.5" r="4.15"/><circle cx="208.5" cy="584.2" r="4.15"/><circle cx="208.3" cy="592.9" r="4.15"/><circle cx="208.1" cy="601.6" r="4.15"/><circle cx="207.8" cy="610.3" r="4.15"/><circle cx="207.6" cy="619" r="4.15"/><circle cx="207.4" cy="627.7" r="4.15"/><circle cx="207.2" cy="636.4" r="4.15"/><circle cx="206.9" cy="645.1" r="4.15"/><circle cx="205.8" cy="688.6" r="4.15"/><circle cx="205.6" cy="697.3" r="4.15"/><circle cx="205.3" cy="706" r="4.15"/><circle cx="205.1" cy="714.7" r="4.15"/><circle cx="204.9" cy="723.4" r="4.15"/><circle cx="204.7" cy="732.1" r="4.15"/><circle cx="204.4" cy="740.8" r="4.15"/><circle cx="204.2" cy="749.5" r="4.15"/><circle cx="204" cy="758.1" r="4.15"/><circle cx="203.7" cy="766.8" r="4.15"/><circle cx="203.5" cy="775.5" r="4.15"/><circle cx="217.7" cy="567" r="4.15"/><circle cx="217.4" cy="575.7" r="4.15"/><circle cx="217.2" cy="584.4" r="4.15"/><circle cx="217" cy="593.1" r="4.15"/><circle cx="216.8" cy="601.8" r="4.15"/><circle cx="216.5" cy="610.5" r="4.15"/><circle cx="216.3" cy="619.2" r="4.15"/><circle cx="216.1" cy="627.9" r="4.15"/><circle cx="214" cy="706.2" r="4.15"/><circle cx="213.8" cy="714.9" r="4.15"/><circle cx="213.6" cy="723.6" r="4.15"/><circle cx="213.3" cy="732.3" r="4.15"/><circle cx="213.1" cy="741" r="4.15"/><circle cx="212.9" cy="749.7" r="4.15"/><circle cx="212.7" cy="758.4" r="4.15"/><circle cx="212.4" cy="767.1" r="4.15"/><circle cx="212.2" cy="775.8" r="4.15"/><circle cx="226.4" cy="567.3" r="4.15"/><circle cx="226.1" cy="576" r="4.15"/><circle cx="225.9" cy="584.7" r="4.15"/><circle cx="225.7" cy="593.4" r="4.15"/><circle cx="225.5" cy="602.1" r="4.15"/><circle cx="225.2" cy="610.8" r="4.15"/><circle cx="225" cy="619.5" r="4.15"/><circle cx="222.5" cy="715.1" r="4.15"/><circle cx="222.3" cy="723.8" r="4.15"/><circle cx="222" cy="732.5" r="4.15"/><circle cx="221.8" cy="741.2" r="4.15"/><circle cx="221.6" cy="749.9" r="4.15"/><circle cx="221.4" cy="758.6" r="4.15"/><circle cx="221.1" cy="767.3" r="4.15"/><circle cx="234.8" cy="576.2" r="4.15"/><circle cx="234.6" cy="584.9" r="4.15"/><circle cx="234.4" cy="593.6" r="4.15"/><circle cx="234.2" cy="602.3" r="4.15"/><circle cx="233.9" cy="611" r="4.15"/><circle cx="231" cy="724" r="4.15"/><circle cx="230.7" cy="732.7" r="4.15"/><circle cx="230.5" cy="741.4" r="4.15"/><circle cx="230.3" cy="750.1" r="4.15"/><circle cx="230.1" cy="758.8" r="4.15"/><circle cx="229.8" cy="767.5" r="4.15"/><circle cx="243.5" cy="576.4" r="4.15"/><circle cx="243.3" cy="585.1" r="4.15"/><circle cx="243.1" cy="593.8" r="4.15"/><circle cx="242.9" cy="602.5" r="4.15"/><circle cx="242.6" cy="611.2" r="4.15"/><circle cx="239.7" cy="724.3" r="4.15"/><circle cx="239.4" cy="733" r="4.15"/><circle cx="239.2" cy="741.7" r="4.15"/><circle cx="239" cy="750.4" r="4.15"/><circle cx="238.8" cy="759.1" r="4.15"/><circle cx="238.5" cy="767.8" r="4.15"/><circle cx="252" cy="585.3" r="4.15"/><circle cx="251.8" cy="594" r="4.15"/><circle cx="251.6" cy="602.7" r="4.15"/><circle cx="251.3" cy="611.4" r="4.15"/><circle cx="248.4" cy="724.5" r="4.15"/><circle cx="248.1" cy="733.2" r="4.15"/><circle cx="247.9" cy="741.9" r="4.15"/><circle cx="247.7" cy="750.6" r="4.15"/><circle cx="247.5" cy="759.3" r="4.15"/><circle cx="260.7" cy="585.6" r="4.15"/><circle cx="260.5" cy="594.3" r="4.15"/><circle cx="260.3" cy="603" r="4.15"/><circle cx="260" cy="611.7" r="4.15"/><circle cx="256.8" cy="733.4" r="4.15"/><circle cx="256.6" cy="742.1" r="4.15"/><circle cx="256.4" cy="750.8" r="4.15"/><circle cx="256.2" cy="759.5" r="4.15"/><circle cx="269.2" cy="594.5" r="4.15"/><circle cx="268.9" cy="603.2" r="4.15"/><circle cx="268.7" cy="611.9" r="4.15"/><circle cx="265.8" cy="725" r="4.15"/><circle cx="265.5" cy="733.7" r="4.15"/><circle cx="265.3" cy="742.3" r="4.15"/><circle cx="265.1" cy="751" r="4.15"/><circle cx="277.6" cy="603.4" r="4.15"/><circle cx="277.4" cy="612.1" r="4.15"/><circle cx="274.5" cy="725.2" r="4.15"/><circle cx="274.2" cy="733.9" r="4.15"/><circle cx="274" cy="742.6" r="4.15"/><circle cx="286.1" cy="612.3" r="4.15"/><circle cx="283.2" cy="725.4" r="4.15"/><circle cx="292.1" cy="716.9" r="4.15"/></g>
<ellipse cx="195.65" cy="670.35" rx="118.75" ry="120.35" fill="url(#gRodSh)"/>
<g clip-path="url(#cRods)"><ellipse cx="142" cy="684" rx="60" ry="58" fill="#3a3a2a" opacity=".45" filter="url(#fBl3)"/><ellipse cx="258" cy="684" rx="60" ry="58" fill="#3a3a2a" opacity=".40" filter="url(#fBl3)"/></g>
<circle cx="138" cy="668.9" r="61.2" fill="url(#gRd)"/>
<circle cx="260.2" cy="669" r="60.6" fill="url(#gWh)"/>
<ellipse cx="136" cy="678" rx="40" ry="38" fill="#4a0000" opacity=".5" filter="url(#fBl3)"/>
<ellipse cx="144" cy="666" rx="32.3" ry="35.8" fill="#9c5a30"/><ellipse cx="144" cy="665" rx="31.8" ry="35" fill="#d9946a"/><g fill="#f3b082"><circle cx="173.1" cy="665" r="2.55"/><circle cx="172.6" cy="671.1" r="2.55"/><circle cx="171" cy="677" r="2.55"/><circle cx="168.5" cy="682.5" r="2.55"/><circle cx="165.1" cy="687.3" r="2.55"/><circle cx="160.9" cy="691.3" r="2.55"/><circle cx="156.1" cy="694.4" r="2.55"/><circle cx="150.9" cy="696.4" r="2.55"/><circle cx="145.4" cy="697.3" r="2.55"/><circle cx="139.9" cy="697" r="2.55"/><circle cx="134.5" cy="695.5" r="2.55"/><circle cx="129.5" cy="693" r="2.55"/><circle cx="124.9" cy="689.4" r="2.55"/><circle cx="121.1" cy="685" r="2.55"/><circle cx="118.1" cy="679.8" r="2.55"/><circle cx="116.1" cy="674.1" r="2.55"/><circle cx="115" cy="668.1" r="2.55"/><circle cx="115" cy="661.9" r="2.55"/><circle cx="116.1" cy="655.9" r="2.55"/><circle cx="118.1" cy="650.2" r="2.55"/><circle cx="121.1" cy="645" r="2.55"/><circle cx="124.9" cy="640.6" r="2.55"/><circle cx="129.4" cy="637" r="2.55"/><circle cx="134.5" cy="634.5" r="2.55"/><circle cx="139.9" cy="633" r="2.55"/><circle cx="145.4" cy="632.7" r="2.55"/><circle cx="150.9" cy="633.6" r="2.55"/><circle cx="156.1" cy="635.6" r="2.55"/><circle cx="160.9" cy="638.7" r="2.55"/><circle cx="165.1" cy="642.7" r="2.55"/><circle cx="168.5" cy="647.5" r="2.55"/><circle cx="171" cy="653" r="2.55"/><circle cx="172.6" cy="658.9" r="2.55"/></g><ellipse cx="134.4" cy="670.2" rx="33.7" ry="36.8" fill="#9c5a30"/><ellipse cx="134.4" cy="669.2" rx="33.2" ry="36" fill="#d9946a"/><g fill="#f3b082"><circle cx="164.9" cy="669.2" r="2.55"/><circle cx="164.4" cy="675.1" r="2.55"/><circle cx="163" cy="680.9" r="2.55"/><circle cx="160.6" cy="686.3" r="2.55"/><circle cx="157.4" cy="691.1" r="2.55"/><circle cx="153.4" cy="695.2" r="2.55"/><circle cx="148.9" cy="698.5" r="2.55"/><circle cx="143.8" cy="700.9" r="2.55"/><circle cx="138.5" cy="702.2" r="2.55"/><circle cx="133" cy="702.5" r="2.55"/><circle cx="127.6" cy="701.7" r="2.55"/><circle cx="122.4" cy="699.8" r="2.55"/><circle cx="117.6" cy="697" r="2.55"/><circle cx="113.3" cy="693.3" r="2.55"/><circle cx="109.7" cy="688.8" r="2.55"/><circle cx="106.9" cy="683.6" r="2.55"/><circle cx="105" cy="678.1" r="2.55"/><circle cx="104" cy="672.2" r="2.55"/><circle cx="104" cy="666.2" r="2.55"/><circle cx="105" cy="660.3" r="2.55"/><circle cx="106.9" cy="654.8" r="2.55"/><circle cx="109.7" cy="649.6" r="2.55"/><circle cx="113.3" cy="645.1" r="2.55"/><circle cx="117.6" cy="641.4" r="2.55"/><circle cx="122.4" cy="638.6" r="2.55"/><circle cx="127.6" cy="636.7" r="2.55"/><circle cx="133" cy="635.9" r="2.55"/><circle cx="138.5" cy="636.2" r="2.55"/><circle cx="143.8" cy="637.5" r="2.55"/><circle cx="148.9" cy="639.9" r="2.55"/><circle cx="153.4" cy="643.2" r="2.55"/><circle cx="157.4" cy="647.3" r="2.55"/><circle cx="160.6" cy="652.1" r="2.55"/><circle cx="163" cy="657.5" r="2.55"/><circle cx="164.4" cy="663.3" r="2.55"/></g><ellipse cx="127.7" cy="677.5" rx="33" ry="34.4" fill="#9c5a30"/><ellipse cx="127.7" cy="676.3" rx="32.4" ry="33.5" fill="#6e3515"/><g fill="#f3b082"><circle cx="127.7" cy="676.3" r="2.55"/><circle cx="132.4" cy="677.8" r="2.55"/><circle cx="128.8" cy="681.3" r="2.55"/><circle cx="124.1" cy="679.8" r="2.55"/><circle cx="123" cy="674.8" r="2.55"/><circle cx="126.6" cy="671.3" r="2.55"/><circle cx="131.3" cy="672.8" r="2.55"/><circle cx="135.9" cy="682.1" r="2.55"/><circle cx="132" cy="685.6" r="2.55"/><circle cx="126.9" cy="686.5" r="2.55"/><circle cx="122.1" cy="684.8" r="2.55"/><circle cx="118.8" cy="680.7" r="2.55"/><circle cx="117.8" cy="675.5" r="2.55"/><circle cx="119.5" cy="670.5" r="2.55"/><circle cx="123.4" cy="667" r="2.55"/><circle cx="128.5" cy="666.1" r="2.55"/><circle cx="133.3" cy="667.8" r="2.55"/><circle cx="136.6" cy="671.9" r="2.55"/><circle cx="137.6" cy="677.1" r="2.55"/><circle cx="136.9" cy="688.4" r="2.55"/><circle cx="132.4" cy="690.9" r="2.55"/><circle cx="127.3" cy="691.7" r="2.55"/><circle cx="122.2" cy="690.6" r="2.55"/><circle cx="117.8" cy="687.8" r="2.55"/><circle cx="114.6" cy="683.6" r="2.55"/><circle cx="113" cy="678.6" r="2.55"/><circle cx="113.2" cy="673.2" r="2.55"/><circle cx="115" cy="668.2" r="2.55"/><circle cx="118.5" cy="664.2" r="2.55"/><circle cx="123" cy="661.7" r="2.55"/><circle cx="128.1" cy="660.9" r="2.55"/><circle cx="133.2" cy="662" r="2.55"/><circle cx="137.6" cy="664.8" r="2.55"/><circle cx="140.8" cy="669" r="2.55"/><circle cx="142.4" cy="674" r="2.55"/><circle cx="142.2" cy="679.4" r="2.55"/><circle cx="140.4" cy="684.4" r="2.55"/><circle cx="134.9" cy="695.4" r="2.55"/><circle cx="129.9" cy="696.7" r="2.55"/><circle cx="124.7" cy="696.6" r="2.55"/><circle cx="119.7" cy="695.1" r="2.55"/><circle cx="115.3" cy="692.3" r="2.55"/><circle cx="111.7" cy="688.4" r="2.55"/><circle cx="109.2" cy="683.7" r="2.55"/><circle cx="108" cy="678.5" r="2.55"/><circle cx="108.1" cy="673.2" r="2.55"/><circle cx="109.6" cy="668" r="2.55"/><circle cx="112.3" cy="663.4" r="2.55"/><circle cx="116" cy="659.7" r="2.55"/><circle cx="120.5" cy="657.2" r="2.55"/><circle cx="125.5" cy="655.9" r="2.55"/><circle cx="130.7" cy="656" r="2.55"/><circle cx="135.7" cy="657.5" r="2.55"/><circle cx="140.1" cy="660.3" r="2.55"/><circle cx="143.7" cy="664.2" r="2.55"/><circle cx="146.2" cy="668.9" r="2.55"/><circle cx="147.4" cy="674.1" r="2.55"/><circle cx="147.3" cy="679.4" r="2.55"/><circle cx="145.8" cy="684.6" r="2.55"/><circle cx="143.1" cy="689.2" r="2.55"/><circle cx="139.4" cy="692.9" r="2.55"/><circle cx="129.5" cy="701.9" r="2.55"/><circle cx="124.3" cy="701.7" r="2.55"/><circle cx="119.3" cy="700.4" r="2.55"/><circle cx="114.6" cy="698.1" r="2.55"/><circle cx="110.5" cy="694.8" r="2.55"/><circle cx="107.2" cy="690.7" r="2.55"/><circle cx="104.8" cy="685.9" r="2.55"/><circle cx="103.3" cy="680.8" r="2.55"/><circle cx="103" cy="675.4" r="2.55"/><circle cx="103.7" cy="670.1" r="2.55"/><circle cx="105.4" cy="665.1" r="2.55"/><circle cx="108.2" cy="660.5" r="2.55"/><circle cx="111.8" cy="656.7" r="2.55"/><circle cx="116.1" cy="653.6" r="2.55"/><circle cx="120.9" cy="651.6" r="2.55"/><circle cx="125.9" cy="650.7" r="2.55"/><circle cx="131.1" cy="650.9" r="2.55"/><circle cx="136.1" cy="652.2" r="2.55"/><circle cx="140.8" cy="654.5" r="2.55"/><circle cx="144.9" cy="657.8" r="2.55"/><circle cx="148.2" cy="661.9" r="2.55"/><circle cx="150.6" cy="666.7" r="2.55"/><circle cx="152.1" cy="671.8" r="2.55"/><circle cx="152.4" cy="677.2" r="2.55"/><circle cx="151.7" cy="682.5" r="2.55"/><circle cx="150" cy="687.5" r="2.55"/><circle cx="147.2" cy="692.1" r="2.55"/><circle cx="143.6" cy="695.9" r="2.55"/><circle cx="139.3" cy="699" r="2.55"/><circle cx="134.5" cy="701" r="2.55"/><circle cx="121" cy="706.3" r="2.55"/><circle cx="116" cy="704.6" r="2.55"/><circle cx="111.5" cy="702.1" r="2.55"/><circle cx="107.4" cy="698.8" r="2.55"/><circle cx="103.9" cy="694.8" r="2.55"/><circle cx="101.2" cy="690.2" r="2.55"/><circle cx="99.3" cy="685.2" r="2.55"/><circle cx="98.2" cy="680" r="2.55"/><circle cx="98" cy="674.6" r="2.55"/><circle cx="98.8" cy="669.3" r="2.55"/><circle cx="100.4" cy="664.2" r="2.55"/><circle cx="102.8" cy="659.5" r="2.55"/><circle cx="106" cy="655.2" r="2.55"/><circle cx="109.9" cy="651.7" r="2.55"/><circle cx="114.3" cy="648.8" r="2.55"/><circle cx="119.1" cy="646.8" r="2.55"/><circle cx="124.1" cy="645.7" r="2.55"/><circle cx="129.3" cy="645.5" r="2.55"/><circle cx="134.4" cy="646.3" r="2.55"/><circle cx="139.4" cy="648" r="2.55"/><circle cx="143.9" cy="650.5" r="2.55"/><circle cx="148" cy="653.8" r="2.55"/><circle cx="151.5" cy="657.8" r="2.55"/><circle cx="154.2" cy="662.4" r="2.55"/><circle cx="156.1" cy="667.4" r="2.55"/><circle cx="157.2" cy="672.6" r="2.55"/><circle cx="157.4" cy="678" r="2.55"/><circle cx="156.6" cy="683.3" r="2.55"/><circle cx="155" cy="688.4" r="2.55"/><circle cx="152.6" cy="693.1" r="2.55"/><circle cx="149.4" cy="697.4" r="2.55"/><circle cx="145.5" cy="700.9" r="2.55"/><circle cx="141.1" cy="703.8" r="2.55"/><circle cx="136.3" cy="705.8" r="2.55"/><circle cx="131.3" cy="706.9" r="2.55"/><circle cx="126.1" cy="707.1" r="2.55"/></g>
<ellipse cx="266" cy="680" rx="38" ry="36" fill="#8a8484" opacity=".5" filter="url(#fBl3)"/>
<ellipse cx="259.4" cy="666.2" rx="37.7" ry="35.8" fill="#94521f"/><ellipse cx="259.4" cy="665.2" rx="37.2" ry="35" fill="#d48a55"/><g fill="#efa56e"><circle cx="293.9" cy="665.2" r="2.55"/><circle cx="293.5" cy="670.3" r="2.55"/><circle cx="292.2" cy="675.2" r="2.55"/><circle cx="290.1" cy="679.9" r="2.55"/><circle cx="287.3" cy="684.2" r="2.55"/><circle cx="283.8" cy="688" r="2.55"/><circle cx="279.7" cy="691.3" r="2.55"/><circle cx="275.1" cy="694" r="2.55"/><circle cx="270.1" cy="695.9" r="2.55"/><circle cx="264.8" cy="697.1" r="2.55"/><circle cx="259.4" cy="697.5" r="2.55"/><circle cx="254" cy="697.1" r="2.55"/><circle cx="248.7" cy="695.9" r="2.55"/><circle cx="243.7" cy="694" r="2.55"/><circle cx="239.1" cy="691.3" r="2.55"/><circle cx="235" cy="688" r="2.55"/><circle cx="231.5" cy="684.2" r="2.55"/><circle cx="228.7" cy="679.9" r="2.55"/><circle cx="226.6" cy="675.2" r="2.55"/><circle cx="225.3" cy="670.3" r="2.55"/><circle cx="224.9" cy="665.2" r="2.55"/><circle cx="225.3" cy="660.1" r="2.55"/><circle cx="226.6" cy="655.2" r="2.55"/><circle cx="228.7" cy="650.5" r="2.55"/><circle cx="231.5" cy="646.2" r="2.55"/><circle cx="235" cy="642.4" r="2.55"/><circle cx="239.1" cy="639.1" r="2.55"/><circle cx="243.7" cy="636.4" r="2.55"/><circle cx="248.7" cy="634.5" r="2.55"/><circle cx="254" cy="633.3" r="2.55"/><circle cx="259.4" cy="632.9" r="2.55"/><circle cx="264.8" cy="633.3" r="2.55"/><circle cx="270.1" cy="634.5" r="2.55"/><circle cx="275.1" cy="636.4" r="2.55"/><circle cx="279.7" cy="639.1" r="2.55"/><circle cx="283.8" cy="642.4" r="2.55"/><circle cx="287.3" cy="646.2" r="2.55"/><circle cx="290.1" cy="650.5" r="2.55"/><circle cx="292.2" cy="655.2" r="2.55"/><circle cx="293.5" cy="660.1" r="2.55"/></g><ellipse cx="265" cy="672.5" rx="35.9" ry="35.2" fill="#94521f"/><ellipse cx="265" cy="671.5" rx="35.4" ry="34.4" fill="#d48a55"/><g fill="#efa56e"><circle cx="297.7" cy="671.5" r="2.55"/><circle cx="297.3" cy="676.7" r="2.55"/><circle cx="295.9" cy="681.8" r="2.55"/><circle cx="293.8" cy="686.6" r="2.55"/><circle cx="290.8" cy="691" r="2.55"/><circle cx="287.1" cy="694.8" r="2.55"/><circle cx="282.9" cy="698" r="2.55"/><circle cx="278.1" cy="700.5" r="2.55"/><circle cx="273" cy="702.2" r="2.55"/><circle cx="267.7" cy="703.1" r="2.55"/><circle cx="262.3" cy="703.1" r="2.55"/><circle cx="257" cy="702.2" r="2.55"/><circle cx="251.9" cy="700.5" r="2.55"/><circle cx="247.1" cy="698" r="2.55"/><circle cx="242.9" cy="694.8" r="2.55"/><circle cx="239.2" cy="691" r="2.55"/><circle cx="236.2" cy="686.6" r="2.55"/><circle cx="234.1" cy="681.8" r="2.55"/><circle cx="232.7" cy="676.7" r="2.55"/><circle cx="232.3" cy="671.5" r="2.55"/><circle cx="232.7" cy="666.3" r="2.55"/><circle cx="234.1" cy="661.2" r="2.55"/><circle cx="236.2" cy="656.4" r="2.55"/><circle cx="239.2" cy="652" r="2.55"/><circle cx="242.9" cy="648.2" r="2.55"/><circle cx="247.1" cy="645" r="2.55"/><circle cx="251.9" cy="642.5" r="2.55"/><circle cx="257" cy="640.8" r="2.55"/><circle cx="262.3" cy="639.9" r="2.55"/><circle cx="267.7" cy="639.9" r="2.55"/><circle cx="273" cy="640.8" r="2.55"/><circle cx="278.1" cy="642.5" r="2.55"/><circle cx="282.9" cy="645" r="2.55"/><circle cx="287.1" cy="648.2" r="2.55"/><circle cx="290.8" cy="652" r="2.55"/><circle cx="293.8" cy="656.4" r="2.55"/><circle cx="295.9" cy="661.2" r="2.55"/><circle cx="297.3" cy="666.3" r="2.55"/></g><ellipse cx="270" cy="677.5" rx="32.4" ry="34.3" fill="#94521f"/><ellipse cx="270" cy="676.3" rx="31.8" ry="33.4" fill="#6e3515"/><g fill="#efa56e"><circle cx="270" cy="676.3" r="2.55"/><circle cx="274.6" cy="677.8" r="2.55"/><circle cx="271.1" cy="681.3" r="2.55"/><circle cx="266.4" cy="679.8" r="2.55"/><circle cx="265.4" cy="674.8" r="2.55"/><circle cx="268.9" cy="671.3" r="2.55"/><circle cx="273.6" cy="672.8" r="2.55"/><circle cx="278" cy="682.1" r="2.55"/><circle cx="274.2" cy="685.5" r="2.55"/><circle cx="269.3" cy="686.5" r="2.55"/><circle cx="264.5" cy="684.7" r="2.55"/><circle cx="261.3" cy="680.7" r="2.55"/><circle cx="260.3" cy="675.5" r="2.55"/><circle cx="262" cy="670.5" r="2.55"/><circle cx="265.8" cy="667.1" r="2.55"/><circle cx="270.7" cy="666.1" r="2.55"/><circle cx="275.5" cy="667.9" r="2.55"/><circle cx="278.7" cy="671.9" r="2.55"/><circle cx="279.7" cy="677.1" r="2.55"/><circle cx="279" cy="688.3" r="2.55"/><circle cx="274.6" cy="690.9" r="2.55"/><circle cx="269.6" cy="691.6" r="2.55"/><circle cx="264.7" cy="690.6" r="2.55"/><circle cx="260.3" cy="687.8" r="2.55"/><circle cx="257.2" cy="683.6" r="2.55"/><circle cx="255.6" cy="678.6" r="2.55"/><circle cx="255.7" cy="673.2" r="2.55"/><circle cx="257.6" cy="668.3" r="2.55"/><circle cx="261" cy="664.3" r="2.55"/><circle cx="265.4" cy="661.7" r="2.55"/><circle cx="270.4" cy="661" r="2.55"/><circle cx="275.3" cy="662" r="2.55"/><circle cx="279.7" cy="664.8" r="2.55"/><circle cx="282.8" cy="669" r="2.55"/><circle cx="284.4" cy="674" r="2.55"/><circle cx="284.3" cy="679.4" r="2.55"/><circle cx="282.4" cy="684.3" r="2.55"/><circle cx="277" cy="695.4" r="2.55"/><circle cx="272.1" cy="696.6" r="2.55"/><circle cx="267" cy="696.5" r="2.55"/><circle cx="262.2" cy="695" r="2.55"/><circle cx="257.9" cy="692.3" r="2.55"/><circle cx="254.4" cy="688.4" r="2.55"/><circle cx="251.9" cy="683.7" r="2.55"/><circle cx="250.7" cy="678.5" r="2.55"/><circle cx="250.8" cy="673.2" r="2.55"/><circle cx="252.2" cy="668.1" r="2.55"/><circle cx="254.9" cy="663.5" r="2.55"/><circle cx="258.5" cy="659.8" r="2.55"/><circle cx="263" cy="657.2" r="2.55"/><circle cx="267.9" cy="656" r="2.55"/><circle cx="273" cy="656.1" r="2.55"/><circle cx="277.8" cy="657.6" r="2.55"/><circle cx="282.1" cy="660.3" r="2.55"/><circle cx="285.6" cy="664.2" r="2.55"/><circle cx="288.1" cy="668.9" r="2.55"/><circle cx="289.3" cy="674.1" r="2.55"/><circle cx="289.2" cy="679.4" r="2.55"/><circle cx="287.8" cy="684.5" r="2.55"/><circle cx="285.1" cy="689.1" r="2.55"/><circle cx="281.5" cy="692.8" r="2.55"/><circle cx="271.7" cy="701.8" r="2.55"/><circle cx="266.6" cy="701.6" r="2.55"/><circle cx="261.7" cy="700.3" r="2.55"/><circle cx="257.2" cy="698" r="2.55"/><circle cx="253.2" cy="694.7" r="2.55"/><circle cx="249.9" cy="690.6" r="2.55"/><circle cx="247.5" cy="685.9" r="2.55"/><circle cx="246.1" cy="680.8" r="2.55"/><circle cx="245.8" cy="675.4" r="2.55"/><circle cx="246.5" cy="670.1" r="2.55"/><circle cx="248.2" cy="665.1" r="2.55"/><circle cx="250.9" cy="660.6" r="2.55"/><circle cx="254.4" cy="656.7" r="2.55"/><circle cx="258.6" cy="653.7" r="2.55"/><circle cx="263.3" cy="651.7" r="2.55"/><circle cx="268.3" cy="650.8" r="2.55"/><circle cx="273.4" cy="651" r="2.55"/><circle cx="278.3" cy="652.3" r="2.55"/><circle cx="282.8" cy="654.6" r="2.55"/><circle cx="286.8" cy="657.9" r="2.55"/><circle cx="290.1" cy="662" r="2.55"/><circle cx="292.5" cy="666.7" r="2.55"/><circle cx="293.9" cy="671.8" r="2.55"/><circle cx="294.2" cy="677.2" r="2.55"/><circle cx="293.5" cy="682.5" r="2.55"/><circle cx="291.8" cy="687.5" r="2.55"/><circle cx="289.1" cy="692" r="2.55"/><circle cx="285.6" cy="695.9" r="2.55"/><circle cx="281.4" cy="698.9" r="2.55"/><circle cx="276.7" cy="700.9" r="2.55"/><circle cx="263.4" cy="706.2" r="2.55"/><circle cx="258.6" cy="704.5" r="2.55"/><circle cx="254.1" cy="702" r="2.55"/><circle cx="250.1" cy="698.7" r="2.55"/><circle cx="246.7" cy="694.7" r="2.55"/><circle cx="244" cy="690.2" r="2.55"/><circle cx="242.2" cy="685.2" r="2.55"/><circle cx="241.1" cy="680" r="2.55"/><circle cx="240.9" cy="674.6" r="2.55"/><circle cx="241.7" cy="669.3" r="2.55"/><circle cx="243.2" cy="664.2" r="2.55"/><circle cx="245.6" cy="659.5" r="2.55"/><circle cx="248.8" cy="655.3" r="2.55"/><circle cx="252.5" cy="651.7" r="2.55"/><circle cx="256.8" cy="648.9" r="2.55"/><circle cx="261.6" cy="646.9" r="2.55"/><circle cx="266.5" cy="645.8" r="2.55"/><circle cx="271.6" cy="645.6" r="2.55"/><circle cx="276.6" cy="646.4" r="2.55"/><circle cx="281.4" cy="648.1" r="2.55"/><circle cx="285.9" cy="650.6" r="2.55"/><circle cx="289.9" cy="653.9" r="2.55"/><circle cx="293.3" cy="657.9" r="2.55"/><circle cx="296" cy="662.4" r="2.55"/><circle cx="297.8" cy="667.4" r="2.55"/><circle cx="298.9" cy="672.6" r="2.55"/><circle cx="299.1" cy="678" r="2.55"/><circle cx="298.3" cy="683.3" r="2.55"/><circle cx="296.8" cy="688.4" r="2.55"/><circle cx="294.4" cy="693.1" r="2.55"/><circle cx="291.2" cy="697.3" r="2.55"/><circle cx="287.5" cy="700.9" r="2.55"/><circle cx="283.2" cy="703.7" r="2.55"/><circle cx="278.4" cy="705.7" r="2.55"/><circle cx="273.5" cy="706.8" r="2.55"/><circle cx="268.4" cy="707" r="2.55"/></g>
</g>
<g id="strands">
<g fill="#f8c111"><circle cx="398.2" cy="662.8" r="7"/><circle cx="399.4" cy="646.4" r="7"/><circle cx="403.1" cy="630.4" r="7"/><circle cx="409.1" cy="615.2" r="7"/><circle cx="417.3" cy="600.9" r="7"/><circle cx="427.5" cy="588.1" r="7"/><circle cx="439.5" cy="577" r="7"/><circle cx="453.1" cy="567.7" r="7"/><circle cx="467.9" cy="560.6" r="7"/><circle cx="483.6" cy="555.8" r="7"/><circle cx="499.8" cy="553.3" r="7"/><circle cx="516.2" cy="553.3" r="7"/><circle cx="532.4" cy="555.8" r="7"/><circle cx="548.1" cy="560.6" r="7"/><circle cx="562.9" cy="567.7" r="7"/><circle cx="576.5" cy="577" r="7"/><circle cx="588.5" cy="588.1" r="7"/><circle cx="598.7" cy="600.9" r="7"/><circle cx="606.9" cy="615.2" r="7"/><circle cx="612.9" cy="630.4" r="7"/><circle cx="616.6" cy="646.4" r="7"/><circle cx="617.8" cy="662.8" r="7"/><circle cx="616.6" cy="679.2" r="7"/><circle cx="612.9" cy="695.2" r="7"/><circle cx="606.9" cy="710.4" r="7"/><circle cx="598.7" cy="724.7" r="7"/><circle cx="588.5" cy="737.5" r="7"/><circle cx="576.5" cy="748.6" r="7"/><circle cx="562.9" cy="757.9" r="7"/><circle cx="548.1" cy="765" r="7"/><circle cx="532.4" cy="769.8" r="7"/><circle cx="516.2" cy="772.3" r="7"/><circle cx="499.8" cy="772.3" r="7"/><circle cx="483.6" cy="769.8" r="7"/><circle cx="467.9" cy="765" r="7"/><circle cx="453.1" cy="757.9" r="7"/><circle cx="439.5" cy="748.6" r="7"/><circle cx="427.5" cy="737.5" r="7"/><circle cx="417.3" cy="724.7" r="7"/><circle cx="409.1" cy="710.4" r="7"/><circle cx="403.1" cy="695.2" r="7"/><circle cx="399.4" cy="679.2" r="7"/></g>
<g fill="#f6a683"><circle cx="413.7" cy="662.8" r="7.2"/><circle cx="415.1" cy="646.9" r="7.2"/><circle cx="419.1" cy="631.4" r="7.2"/><circle cx="425.7" cy="616.8" r="7.2"/><circle cx="434.6" cy="603.6" r="7.2"/><circle cx="445.7" cy="592" r="7.2"/><circle cx="458.6" cy="582.5" r="7.2"/><circle cx="472.8" cy="575.3" r="7.2"/><circle cx="488.1" cy="570.6" r="7.2"/><circle cx="504" cy="568.6" r="7.2"/><circle cx="520" cy="569.3" r="7.2"/><circle cx="535.6" cy="572.6" r="7.2"/><circle cx="550.5" cy="578.6" r="7.2"/><circle cx="564.1" cy="587" r="7.2"/><circle cx="576.1" cy="597.6" r="7.2"/><circle cx="586.1" cy="610" r="7.2"/><circle cx="593.9" cy="624" r="7.2"/><circle cx="599.3" cy="639" r="7.2"/><circle cx="602" cy="654.8" r="7.2"/><circle cx="602" cy="670.8" r="7.2"/><circle cx="599.3" cy="686.6" r="7.2"/><circle cx="593.9" cy="701.6" r="7.2"/><circle cx="586.1" cy="715.6" r="7.2"/><circle cx="576.1" cy="728" r="7.2"/><circle cx="564.1" cy="738.6" r="7.2"/><circle cx="550.5" cy="747" r="7.2"/><circle cx="535.6" cy="753" r="7.2"/><circle cx="520" cy="756.3" r="7.2"/><circle cx="504" cy="757" r="7.2"/><circle cx="488.1" cy="755" r="7.2"/><circle cx="472.8" cy="750.3" r="7.2"/><circle cx="458.6" cy="743.1" r="7.2"/><circle cx="445.7" cy="733.6" r="7.2"/><circle cx="434.6" cy="722" r="7.2"/><circle cx="425.7" cy="708.8" r="7.2"/><circle cx="419.1" cy="694.2" r="7.2"/><circle cx="415.1" cy="678.7" r="7.2"/></g>
<g fill="#f8810f"><circle cx="508" cy="662.8" r="7.55"/></g>
<g fill="#f8810f"><circle cx="492" cy="662.8" r="7.5"/><circle cx="500" cy="648.9" r="7.5"/><circle cx="516" cy="648.9" r="7.5"/><circle cx="524" cy="662.8" r="7.5"/><circle cx="516" cy="676.7" r="7.5"/><circle cx="500" cy="676.7" r="7.5"/></g>
<g fill="#f8810f"><circle cx="476.2" cy="662.8" r="7.5"/><circle cx="480.5" cy="646.9" r="7.5"/><circle cx="492.1" cy="635.3" r="7.5"/><circle cx="508" cy="631" r="7.5"/><circle cx="523.9" cy="635.3" r="7.5"/><circle cx="535.5" cy="646.9" r="7.5"/><circle cx="539.8" cy="662.8" r="7.5"/><circle cx="535.5" cy="678.7" r="7.5"/><circle cx="523.9" cy="690.3" r="7.5"/><circle cx="508" cy="694.6" r="7.5"/><circle cx="492.1" cy="690.3" r="7.5"/><circle cx="480.5" cy="678.7" r="7.5"/></g>
<g fill="#f8810f"><circle cx="460.9" cy="662.8" r="7.5"/><circle cx="463.7" cy="646.7" r="7.5"/><circle cx="471.9" cy="632.5" r="7.5"/><circle cx="484.4" cy="622" r="7.5"/><circle cx="499.8" cy="616.4" r="7.5"/><circle cx="516.2" cy="616.4" r="7.5"/><circle cx="531.5" cy="622" r="7.5"/><circle cx="544.1" cy="632.5" r="7.5"/><circle cx="552.3" cy="646.7" r="7.5"/><circle cx="555.1" cy="662.8" r="7.5"/><circle cx="552.3" cy="678.9" r="7.5"/><circle cx="544.1" cy="693.1" r="7.5"/><circle cx="531.6" cy="703.6" r="7.5"/><circle cx="516.2" cy="709.2" r="7.5"/><circle cx="499.8" cy="709.2" r="7.5"/><circle cx="484.5" cy="703.6" r="7.5"/><circle cx="471.9" cy="693.1" r="7.5"/><circle cx="463.7" cy="678.9" r="7.5"/></g>
<g fill="#f8810f"><circle cx="445.1" cy="662.8" r="7.5"/><circle cx="448.2" cy="643.4" r="7.5"/><circle cx="457.1" cy="625.8" r="7.5"/><circle cx="471" cy="611.9" r="7.5"/><circle cx="488.6" cy="603" r="7.5"/><circle cx="508" cy="599.9" r="7.5"/><circle cx="527.4" cy="603" r="7.5"/><circle cx="545" cy="611.9" r="7.5"/><circle cx="558.9" cy="625.8" r="7.5"/><circle cx="567.8" cy="643.4" r="7.5"/><circle cx="570.9" cy="662.8" r="7.5"/><circle cx="567.8" cy="682.2" r="7.5"/><circle cx="558.9" cy="699.8" r="7.5"/><circle cx="545" cy="713.7" r="7.5"/><circle cx="527.4" cy="722.6" r="7.5"/><circle cx="508" cy="725.7" r="7.5"/><circle cx="488.6" cy="722.6" r="7.5"/><circle cx="471" cy="713.7" r="7.5"/><circle cx="457.1" cy="699.8" r="7.5"/><circle cx="448.2" cy="682.2" r="7.5"/></g>
<g fill="#f8810f"><circle cx="429.6" cy="662.8" r="7.5"/><circle cx="432.8" cy="640.7" r="7.5"/><circle cx="442" cy="620.4" r="7.5"/><circle cx="456.7" cy="603.5" r="7.5"/><circle cx="475.4" cy="591.5" r="7.5"/><circle cx="496.8" cy="585.2" r="7.5"/><circle cx="519.2" cy="585.2" r="7.5"/><circle cx="540.6" cy="591.5" r="7.5"/><circle cx="559.3" cy="603.5" r="7.5"/><circle cx="574" cy="620.4" r="7.5"/><circle cx="583.2" cy="640.7" r="7.5"/><circle cx="586.4" cy="662.8" r="7.5"/><circle cx="583.2" cy="684.9" r="7.5"/><circle cx="574" cy="705.2" r="7.5"/><circle cx="559.3" cy="722.1" r="7.5"/><circle cx="540.6" cy="734.1" r="7.5"/><circle cx="519.2" cy="740.4" r="7.5"/><circle cx="496.8" cy="740.4" r="7.5"/><circle cx="475.4" cy="734.1" r="7.5"/><circle cx="456.7" cy="722.1" r="7.5"/><circle cx="442" cy="705.2" r="7.5"/><circle cx="432.8" cy="684.9" r="7.5"/></g>
</g>
<g transform="translate(667.4,637.5)"><path d="M20.6,0 A20.6,20.6 0 1 1 15.8,-13.2" fill="none" stroke="#111" stroke-width="4.1"/><path d="M18.9,-20.2 L20.6,-8.6 L8.6,-10.6Z" fill="#111"/><circle r="10.9" fill="#fb820c"/></g>
<g transform="translate(667.3,694.9) scale(-1,1)"><path d="M20.6,0 A20.6,20.6 0 1 1 15.8,-13.2" fill="none" stroke="#111" stroke-width="4.1"/><path d="M18.9,-20.2 L20.6,-8.6 L8.6,-10.6Z" fill="#111"/><circle r="10.9" fill="#f9a078"/></g>
<g transform="translate(667.4,751.2)"><path d="M20.6,0 A20.6,20.6 0 1 1 15.8,-13.2" fill="none" stroke="#111" stroke-width="4.1"/><path d="M18.9,-20.2 L20.6,-8.6 L8.6,-10.6Z" fill="#111"/><circle r="10.9" fill="#fcc20e"/></g>
<path d="M545.9,72.7 L153.7,199.2" stroke="#ff1a1a" stroke-width="1.1" fill="none"/><path d="M148,201 L152.9,196.8 L154.5,201.5 Z" fill="#ff1a1a"/>
<path d="M549.9,79.1 L336.8,170.3" stroke="#ff1a1a" stroke-width="1.1" fill="none"/><path d="M331.3,172.7 L335.8,168 L337.8,172.6 Z" fill="#ff1a1a"/>
<path d="M551,133.8 L428.4,244.4" stroke="#ff1a1a" stroke-width="1.1" fill="none"/><path d="M423.9,248.4 L426.7,242.5 L430,246.2 Z" fill="#ff1a1a"/>
<path d="M601.4,201.8 L520.8,274.6" stroke="#ff1a1a" stroke-width="1.1" fill="none"/><path d="M516.3,278.6 L519.1,272.7 L522.4,276.4 Z" fill="#ff1a1a"/>
<path d="M688.2,284.9 L636.4,324.7" stroke="#ff1a1a" stroke-width="1.1" fill="none"/><path d="M631.6,328.4 L634.8,322.8 L637.9,326.7 Z" fill="#ff1a1a"/>
<path d="M1024.6,79.6 Q1028,81.6 1030.2,85" stroke="#000" stroke-width="1.5" fill="none" stroke-linecap="round"/>
<path d="M1163.2,24.2h2.2M28.4,24.2h1.4" stroke="#555" stroke-width="1"/><path d="M968,838h2.2" stroke="#222" stroke-width="1.4"/>
</svg>

<div class="t" id="h1" style="left:40.7px;top:28.8px;font-size:19.5px;letter-spacing:0.013px;font-weight:bold;">Conductor material explanation</div>
<div class="t" id="h2" style="left:42.8px;top:478.0px;font-size:19.5px;letter-spacing:0.399px;font-weight:bold;">Cross Sectional View</div>
<div class="t" id="l1a" style="left:552.9px;top:65.7px;font-size:19.5px;letter-spacing:0.266px;">Insulation: Audio Grade PP (Polypropylene, Red for+</div>
<div class="t" id="l1b" style="left:1044.0px;top:65.7px;font-size:19.5px;letter-spacing:0.561px;">White for -)</div>
<div class="t" id="l2" style="left:552.7px;top:124.2px;font-size:19.5px;letter-spacing:0.274px;">Conductor-Outer: α-DUCC (Right rotate)</div>
<div class="t" id="l3" style="left:609.3px;top:192.8px;font-size:19.5px;letter-spacing:0.390px;">Conductor-Middle: α-DUCC (Left rotate)</div>
<div class="t" id="l4" style="left:686.7px;top:265.8px;font-size:19.5px;letter-spacing:0.307px;">Conductor-Inner: α-OCC (Right rotate)</div>
<div class="t" id="g0" style="left:683.6px;top:548.5px;font-size:32px;letter-spacing:0.093px;color:#111;">Conductors strands Direction :</div>
<div class="t" id="g1a" style="left:702.2px;top:623.5px;font-size:27px;letter-spacing:0.126px;color:#111;">Inner -</div>
<div class="t" id="g1b" style="left:796.5px;top:622.1px;font-size:28px;color:#111;">21</div>
<div class="t" id="g1c" style="left:836.9px;top:623.5px;font-size:27px;letter-spacing:0.100px;color:#111;">Alpha OCC-Right rotate</div>
<div class="t" id="g2a" style="left:702.2px;top:680.5px;font-size:27px;color:#111;">Middle</div>
<div class="t" id="g2b" style="left:788.5px;top:679.1px;font-size:28px;color:#111;">-19</div>
<div class="t" id="g2c" style="left:836.9px;top:680.5px;font-size:27px;color:#111;">Alpha DUCC-Left</div>
<div class="t" id="g2d" style="left:1061.4px;top:680.5px;font-size:27px;letter-spacing:0.475px;color:#111;">rotate</div>
<div class="t" id="g3a" style="left:703.2px;top:735.9px;font-size:27px;color:#111;">Outer -</div>
<div class="t" id="g3b" style="left:796.5px;top:734.5px;font-size:28px;color:#111;">25</div>
<div class="t" id="g3c" style="left:836.9px;top:735.9px;font-size:27px;letter-spacing:0.064px;color:#111;">Alpha DUCC-Right rotate</div>
</body>
</html>
